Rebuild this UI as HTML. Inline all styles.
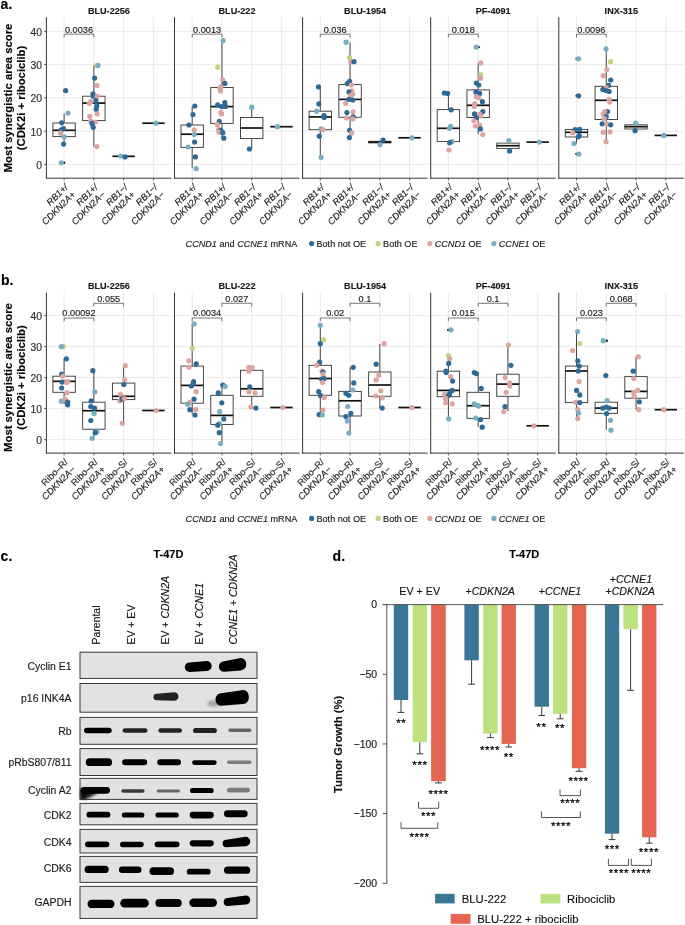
<!DOCTYPE html>
<html><head><meta charset="utf-8"><title>Figure</title>
<style>html,body{margin:0;padding:0;background:#fff;}body{width:685px;height:925px;overflow:hidden;font-family:"Liberation Sans", sans-serif;}svg{display:block;opacity:0.999;}</style>
</head><body>
<svg width="685" height="925" viewBox="0 0 685 925" font-family='"Liberation Sans", sans-serif'>
<style>text{stroke:#1a1a1a;stroke-width:0.15px;stroke-linejoin:round;}</style>
<rect width="685" height="925" fill="#ffffff"/>
<text x="0.60" y="8.80" font-size="14" text-anchor="start" font-weight="bold" font-style="normal" fill="#000" >a.</text>
<line x1="46.40" y1="164.35" x2="171.40" y2="164.35" stroke="#e8e8e8" stroke-width="0.9" />
<line x1="46.40" y1="131.10" x2="171.40" y2="131.10" stroke="#e8e8e8" stroke-width="0.9" />
<line x1="46.40" y1="97.85" x2="171.40" y2="97.85" stroke="#e8e8e8" stroke-width="0.9" />
<line x1="46.40" y1="64.60" x2="171.40" y2="64.60" stroke="#e8e8e8" stroke-width="0.9" />
<line x1="46.40" y1="31.35" x2="171.40" y2="31.35" stroke="#e8e8e8" stroke-width="0.9" />
<line x1="64.10" y1="17.20" x2="64.10" y2="178.20" stroke="#e8e8e8" stroke-width="0.9" />
<line x1="93.86" y1="17.20" x2="93.86" y2="178.20" stroke="#e8e8e8" stroke-width="0.9" />
<line x1="123.62" y1="17.20" x2="123.62" y2="178.20" stroke="#e8e8e8" stroke-width="0.9" />
<line x1="153.38" y1="17.20" x2="153.38" y2="178.20" stroke="#e8e8e8" stroke-width="0.9" />
<text x="108.90" y="13.90" font-size="9.1" text-anchor="middle" font-weight="bold" font-style="normal" fill="#1a1a1a" >BLU-2256</text>
<line x1="174.50" y1="164.35" x2="299.50" y2="164.35" stroke="#e8e8e8" stroke-width="0.9" />
<line x1="174.50" y1="131.10" x2="299.50" y2="131.10" stroke="#e8e8e8" stroke-width="0.9" />
<line x1="174.50" y1="97.85" x2="299.50" y2="97.85" stroke="#e8e8e8" stroke-width="0.9" />
<line x1="174.50" y1="64.60" x2="299.50" y2="64.60" stroke="#e8e8e8" stroke-width="0.9" />
<line x1="174.50" y1="31.35" x2="299.50" y2="31.35" stroke="#e8e8e8" stroke-width="0.9" />
<line x1="192.20" y1="17.20" x2="192.20" y2="178.20" stroke="#e8e8e8" stroke-width="0.9" />
<line x1="221.96" y1="17.20" x2="221.96" y2="178.20" stroke="#e8e8e8" stroke-width="0.9" />
<line x1="251.72" y1="17.20" x2="251.72" y2="178.20" stroke="#e8e8e8" stroke-width="0.9" />
<line x1="281.48" y1="17.20" x2="281.48" y2="178.20" stroke="#e8e8e8" stroke-width="0.9" />
<text x="237.00" y="13.90" font-size="9.1" text-anchor="middle" font-weight="bold" font-style="normal" fill="#1a1a1a" >BLU-222</text>
<line x1="302.60" y1="164.35" x2="427.60" y2="164.35" stroke="#e8e8e8" stroke-width="0.9" />
<line x1="302.60" y1="131.10" x2="427.60" y2="131.10" stroke="#e8e8e8" stroke-width="0.9" />
<line x1="302.60" y1="97.85" x2="427.60" y2="97.85" stroke="#e8e8e8" stroke-width="0.9" />
<line x1="302.60" y1="64.60" x2="427.60" y2="64.60" stroke="#e8e8e8" stroke-width="0.9" />
<line x1="302.60" y1="31.35" x2="427.60" y2="31.35" stroke="#e8e8e8" stroke-width="0.9" />
<line x1="320.30" y1="17.20" x2="320.30" y2="178.20" stroke="#e8e8e8" stroke-width="0.9" />
<line x1="350.06" y1="17.20" x2="350.06" y2="178.20" stroke="#e8e8e8" stroke-width="0.9" />
<line x1="379.82" y1="17.20" x2="379.82" y2="178.20" stroke="#e8e8e8" stroke-width="0.9" />
<line x1="409.58" y1="17.20" x2="409.58" y2="178.20" stroke="#e8e8e8" stroke-width="0.9" />
<text x="365.10" y="13.90" font-size="9.1" text-anchor="middle" font-weight="bold" font-style="normal" fill="#1a1a1a" >BLU-1954</text>
<line x1="430.70" y1="164.35" x2="555.70" y2="164.35" stroke="#e8e8e8" stroke-width="0.9" />
<line x1="430.70" y1="131.10" x2="555.70" y2="131.10" stroke="#e8e8e8" stroke-width="0.9" />
<line x1="430.70" y1="97.85" x2="555.70" y2="97.85" stroke="#e8e8e8" stroke-width="0.9" />
<line x1="430.70" y1="64.60" x2="555.70" y2="64.60" stroke="#e8e8e8" stroke-width="0.9" />
<line x1="430.70" y1="31.35" x2="555.70" y2="31.35" stroke="#e8e8e8" stroke-width="0.9" />
<line x1="448.40" y1="17.20" x2="448.40" y2="178.20" stroke="#e8e8e8" stroke-width="0.9" />
<line x1="478.16" y1="17.20" x2="478.16" y2="178.20" stroke="#e8e8e8" stroke-width="0.9" />
<line x1="507.92" y1="17.20" x2="507.92" y2="178.20" stroke="#e8e8e8" stroke-width="0.9" />
<line x1="537.68" y1="17.20" x2="537.68" y2="178.20" stroke="#e8e8e8" stroke-width="0.9" />
<text x="493.20" y="13.90" font-size="9.1" text-anchor="middle" font-weight="bold" font-style="normal" fill="#1a1a1a" >PF-4091</text>
<line x1="558.80" y1="164.35" x2="683.80" y2="164.35" stroke="#e8e8e8" stroke-width="0.9" />
<line x1="558.80" y1="131.10" x2="683.80" y2="131.10" stroke="#e8e8e8" stroke-width="0.9" />
<line x1="558.80" y1="97.85" x2="683.80" y2="97.85" stroke="#e8e8e8" stroke-width="0.9" />
<line x1="558.80" y1="64.60" x2="683.80" y2="64.60" stroke="#e8e8e8" stroke-width="0.9" />
<line x1="558.80" y1="31.35" x2="683.80" y2="31.35" stroke="#e8e8e8" stroke-width="0.9" />
<line x1="576.50" y1="17.20" x2="576.50" y2="178.20" stroke="#e8e8e8" stroke-width="0.9" />
<line x1="606.26" y1="17.20" x2="606.26" y2="178.20" stroke="#e8e8e8" stroke-width="0.9" />
<line x1="636.02" y1="17.20" x2="636.02" y2="178.20" stroke="#e8e8e8" stroke-width="0.9" />
<line x1="665.78" y1="17.20" x2="665.78" y2="178.20" stroke="#e8e8e8" stroke-width="0.9" />
<text x="621.30" y="13.90" font-size="9.1" text-anchor="middle" font-weight="bold" font-style="normal" fill="#1a1a1a" >INX-315</text>
<line x1="64.10" y1="123.00" x2="64.10" y2="113.50" stroke="#333333" stroke-width="0.9" />
<line x1="64.10" y1="136.60" x2="64.10" y2="144.10" stroke="#333333" stroke-width="0.9" />
<rect x="52.90" y="123.00" width="22.40" height="13.60" fill="#ffffff" stroke="#333333" stroke-width="0.9" />
<line x1="52.90" y1="130.30" x2="75.30" y2="130.30" stroke="#111" stroke-width="1.7" />
<line x1="93.86" y1="96.20" x2="93.86" y2="65.30" stroke="#333333" stroke-width="0.9" />
<line x1="93.86" y1="120.60" x2="93.86" y2="146.60" stroke="#333333" stroke-width="0.9" />
<rect x="82.66" y="96.20" width="22.40" height="24.40" fill="#ffffff" stroke="#333333" stroke-width="0.9" />
<line x1="82.66" y1="103.10" x2="105.06" y2="103.10" stroke="#111" stroke-width="1.7" />
<line x1="112.42" y1="156.30" x2="134.82" y2="156.30" stroke="#111" stroke-width="1.7" />
<line x1="142.18" y1="123.20" x2="164.58" y2="123.20" stroke="#111" stroke-width="1.7" />
<line x1="192.20" y1="125.00" x2="192.20" y2="106.60" stroke="#333333" stroke-width="0.9" />
<line x1="192.20" y1="147.40" x2="192.20" y2="168.30" stroke="#333333" stroke-width="0.9" />
<rect x="181.00" y="125.00" width="22.40" height="22.40" fill="#ffffff" stroke="#333333" stroke-width="0.9" />
<line x1="181.00" y1="134.20" x2="203.40" y2="134.20" stroke="#111" stroke-width="1.7" />
<line x1="221.96" y1="87.50" x2="221.96" y2="40.60" stroke="#333333" stroke-width="0.9" />
<line x1="221.96" y1="123.40" x2="221.96" y2="138.20" stroke="#333333" stroke-width="0.9" />
<rect x="210.76" y="87.50" width="22.40" height="35.90" fill="#ffffff" stroke="#333333" stroke-width="0.9" />
<line x1="210.76" y1="106.60" x2="233.16" y2="106.60" stroke="#111" stroke-width="1.7" />
<line x1="251.72" y1="117.50" x2="251.72" y2="107.20" stroke="#333333" stroke-width="0.9" />
<line x1="251.72" y1="138.60" x2="251.72" y2="149.00" stroke="#333333" stroke-width="0.9" />
<rect x="240.52" y="117.50" width="22.40" height="21.10" fill="#ffffff" stroke="#333333" stroke-width="0.9" />
<line x1="240.52" y1="128.00" x2="262.92" y2="128.00" stroke="#111" stroke-width="1.7" />
<line x1="270.28" y1="126.70" x2="292.68" y2="126.70" stroke="#111" stroke-width="1.7" />
<line x1="320.30" y1="111.20" x2="320.30" y2="86.90" stroke="#333333" stroke-width="0.9" />
<line x1="320.30" y1="129.70" x2="320.30" y2="157.30" stroke="#333333" stroke-width="0.9" />
<rect x="309.10" y="111.20" width="22.40" height="18.50" fill="#ffffff" stroke="#333333" stroke-width="0.9" />
<line x1="309.10" y1="116.90" x2="331.50" y2="116.90" stroke="#111" stroke-width="1.7" />
<line x1="350.06" y1="84.60" x2="350.06" y2="42.60" stroke="#333333" stroke-width="0.9" />
<line x1="350.06" y1="117.30" x2="350.06" y2="137.20" stroke="#333333" stroke-width="0.9" />
<rect x="338.86" y="84.60" width="22.40" height="32.70" fill="#ffffff" stroke="#333333" stroke-width="0.9" />
<line x1="338.86" y1="99.40" x2="361.26" y2="99.40" stroke="#111" stroke-width="1.7" />
<rect x="368.62" y="141.30" width="22.40" height="1.60" fill="#ffffff" stroke="#333333" stroke-width="0.9" />
<line x1="368.62" y1="142.10" x2="391.02" y2="142.10" stroke="#111" stroke-width="1.7" />
<line x1="398.38" y1="137.80" x2="420.78" y2="137.80" stroke="#111" stroke-width="1.7" />
<line x1="448.40" y1="109.60" x2="448.40" y2="92.80" stroke="#333333" stroke-width="0.9" />
<line x1="448.40" y1="141.50" x2="448.40" y2="145.10" stroke="#333333" stroke-width="0.9" />
<rect x="437.20" y="109.60" width="22.40" height="31.90" fill="#ffffff" stroke="#333333" stroke-width="0.9" />
<line x1="437.20" y1="128.30" x2="459.60" y2="128.30" stroke="#111" stroke-width="1.7" />
<line x1="478.16" y1="89.90" x2="478.16" y2="62.90" stroke="#333333" stroke-width="0.9" />
<line x1="478.16" y1="117.50" x2="478.16" y2="134.20" stroke="#333333" stroke-width="0.9" />
<rect x="466.96" y="89.90" width="22.40" height="27.60" fill="#ffffff" stroke="#333333" stroke-width="0.9" />
<line x1="466.96" y1="105.30" x2="489.36" y2="105.30" stroke="#111" stroke-width="1.7" />
<rect x="496.72" y="143.10" width="22.40" height="5.30" fill="#ffffff" stroke="#333333" stroke-width="0.9" />
<line x1="496.72" y1="145.70" x2="519.12" y2="145.70" stroke="#111" stroke-width="1.7" />
<line x1="526.48" y1="142.10" x2="548.88" y2="142.10" stroke="#111" stroke-width="1.7" />
<line x1="576.50" y1="137.00" x2="576.50" y2="143.70" stroke="#333333" stroke-width="0.9" />
<rect x="565.30" y="129.40" width="22.40" height="7.60" fill="#ffffff" stroke="#333333" stroke-width="0.9" />
<line x1="565.30" y1="132.30" x2="587.70" y2="132.30" stroke="#111" stroke-width="1.7" />
<line x1="606.26" y1="86.30" x2="606.26" y2="48.90" stroke="#333333" stroke-width="0.9" />
<line x1="606.26" y1="119.50" x2="606.26" y2="142.10" stroke="#333333" stroke-width="0.9" />
<rect x="595.06" y="86.30" width="22.40" height="33.20" fill="#ffffff" stroke="#333333" stroke-width="0.9" />
<line x1="595.06" y1="100.30" x2="617.46" y2="100.30" stroke="#111" stroke-width="1.7" />
<rect x="624.82" y="124.80" width="22.40" height="4.20" fill="#ffffff" stroke="#333333" stroke-width="0.9" />
<line x1="624.82" y1="126.70" x2="647.22" y2="126.70" stroke="#111" stroke-width="1.7" />
<line x1="654.58" y1="135.40" x2="676.98" y2="135.40" stroke="#111" stroke-width="1.7" />
<circle cx="64.20" cy="162.80" r="1.2" fill="#222"/>
<circle cx="478.80" cy="47.10" r="1.2" fill="#222"/>
<circle cx="576.60" cy="58.80" r="1.2" fill="#222"/>
<circle cx="576.40" cy="154.00" r="1.2" fill="#222"/>
<circle cx="576.60" cy="95.80" r="1.2" fill="#222"/>
<circle cx="65.60" cy="90.70" r="2.6" fill="#2c6a98"/>
<circle cx="68.00" cy="113.10" r="2.6" fill="#76afc4"/>
<circle cx="61.70" cy="122.80" r="2.6" fill="#2c6a98"/>
<circle cx="63.60" cy="128.70" r="2.6" fill="#2c6a98"/>
<circle cx="61.30" cy="129.90" r="2.6" fill="#2c6a98"/>
<circle cx="60.70" cy="133.20" r="2.6" fill="#dfa3a0"/>
<circle cx="64.20" cy="136.80" r="2.6" fill="#76afc4"/>
<circle cx="63.60" cy="144.10" r="2.6" fill="#2c6a98"/>
<circle cx="61.30" cy="162.80" r="2.6" fill="#76afc4"/>
<circle cx="96.60" cy="65.50" r="2.6" fill="#c2d480"/>
<circle cx="98.00" cy="65.40" r="2.6" fill="#76afc4"/>
<circle cx="94.60" cy="78.10" r="2.6" fill="#2c6a98"/>
<circle cx="97.00" cy="85.40" r="2.6" fill="#dfa3a0"/>
<circle cx="93.00" cy="93.80" r="2.6" fill="#2c6a98"/>
<circle cx="93.20" cy="96.20" r="2.6" fill="#2c6a98"/>
<circle cx="97.20" cy="96.40" r="2.6" fill="#dfa3a0"/>
<circle cx="95.80" cy="100.70" r="2.6" fill="#2c6a98"/>
<circle cx="90.80" cy="101.70" r="2.6" fill="#dfa3a0"/>
<circle cx="89.30" cy="103.30" r="2.6" fill="#dfa3a0"/>
<circle cx="96.80" cy="105.70" r="2.6" fill="#2c6a98"/>
<circle cx="96.20" cy="109.20" r="2.6" fill="#2c6a98"/>
<circle cx="97.20" cy="114.00" r="2.6" fill="#dfa3a0"/>
<circle cx="89.70" cy="116.30" r="2.6" fill="#dfa3a0"/>
<circle cx="90.80" cy="121.00" r="2.6" fill="#dfa3a0"/>
<circle cx="95.20" cy="122.00" r="2.6" fill="#dfa3a0"/>
<circle cx="92.00" cy="123.40" r="2.6" fill="#2c6a98"/>
<circle cx="93.20" cy="127.30" r="2.6" fill="#2c6a98"/>
<circle cx="96.80" cy="146.60" r="2.6" fill="#dfa3a0"/>
<circle cx="120.60" cy="156.10" r="2.6" fill="#76afc4"/>
<circle cx="125.10" cy="156.90" r="2.6" fill="#2c6a98"/>
<circle cx="155.90" cy="123.20" r="2.6" fill="#76afc4"/>
<circle cx="194.80" cy="106.00" r="2.6" fill="#2c6a98"/>
<circle cx="193.00" cy="114.50" r="2.6" fill="#2c6a98"/>
<circle cx="188.90" cy="125.00" r="2.6" fill="#2c6a98"/>
<circle cx="194.20" cy="129.90" r="2.6" fill="#dfa3a0"/>
<circle cx="194.20" cy="134.60" r="2.6" fill="#76afc4"/>
<circle cx="194.60" cy="142.10" r="2.6" fill="#2c6a98"/>
<circle cx="188.10" cy="147.00" r="2.6" fill="#76afc4"/>
<circle cx="195.40" cy="156.90" r="2.6" fill="#2c6a98"/>
<circle cx="196.20" cy="168.70" r="2.6" fill="#76afc4"/>
<circle cx="223.20" cy="40.60" r="2.6" fill="#76afc4"/>
<circle cx="217.70" cy="67.20" r="2.6" fill="#c2d480"/>
<circle cx="222.80" cy="80.00" r="2.6" fill="#dfa3a0"/>
<circle cx="224.80" cy="83.40" r="2.6" fill="#2c6a98"/>
<circle cx="220.80" cy="86.90" r="2.6" fill="#dfa3a0"/>
<circle cx="219.90" cy="87.90" r="2.6" fill="#dfa3a0"/>
<circle cx="220.50" cy="90.90" r="2.6" fill="#dfa3a0"/>
<circle cx="224.80" cy="102.70" r="2.6" fill="#2c6a98"/>
<circle cx="217.70" cy="104.90" r="2.6" fill="#2c6a98"/>
<circle cx="221.60" cy="106.60" r="2.6" fill="#2c6a98"/>
<circle cx="225.60" cy="106.40" r="2.6" fill="#2c6a98"/>
<circle cx="220.80" cy="112.60" r="2.6" fill="#dfa3a0"/>
<circle cx="221.60" cy="113.90" r="2.6" fill="#dfa3a0"/>
<circle cx="219.30" cy="121.40" r="2.6" fill="#2c6a98"/>
<circle cx="217.30" cy="124.40" r="2.6" fill="#dfa3a0"/>
<circle cx="218.70" cy="129.30" r="2.6" fill="#dfa3a0"/>
<circle cx="220.80" cy="130.30" r="2.6" fill="#2c6a98"/>
<circle cx="218.90" cy="132.30" r="2.6" fill="#dfa3a0"/>
<circle cx="222.80" cy="132.70" r="2.6" fill="#2c6a98"/>
<circle cx="223.80" cy="138.20" r="2.6" fill="#2c6a98"/>
<circle cx="251.80" cy="107.20" r="2.6" fill="#76afc4"/>
<circle cx="249.40" cy="149.00" r="2.6" fill="#2c6a98"/>
<circle cx="277.40" cy="126.70" r="2.6" fill="#76afc4"/>
<circle cx="318.50" cy="86.90" r="2.6" fill="#2c6a98"/>
<circle cx="318.90" cy="103.90" r="2.6" fill="#2c6a98"/>
<circle cx="316.70" cy="111.20" r="2.6" fill="#76afc4"/>
<circle cx="324.00" cy="115.50" r="2.6" fill="#2c6a98"/>
<circle cx="324.20" cy="117.50" r="2.6" fill="#2c6a98"/>
<circle cx="321.10" cy="128.90" r="2.6" fill="#76afc4"/>
<circle cx="323.20" cy="129.70" r="2.6" fill="#dfa3a0"/>
<circle cx="319.30" cy="136.20" r="2.6" fill="#2c6a98"/>
<circle cx="321.10" cy="157.30" r="2.6" fill="#76afc4"/>
<circle cx="346.10" cy="42.20" r="2.6" fill="#76afc4"/>
<circle cx="349.60" cy="57.60" r="2.6" fill="#c2d480"/>
<circle cx="350.80" cy="61.90" r="2.6" fill="#dfa3a0"/>
<circle cx="354.00" cy="61.70" r="2.6" fill="#2c6a98"/>
<circle cx="349.60" cy="81.40" r="2.6" fill="#2c6a98"/>
<circle cx="347.30" cy="83.60" r="2.6" fill="#2c6a98"/>
<circle cx="351.40" cy="85.00" r="2.6" fill="#dfa3a0"/>
<circle cx="351.80" cy="90.90" r="2.6" fill="#dfa3a0"/>
<circle cx="349.00" cy="91.90" r="2.6" fill="#2c6a98"/>
<circle cx="352.60" cy="94.20" r="2.6" fill="#dfa3a0"/>
<circle cx="350.80" cy="95.40" r="2.6" fill="#dfa3a0"/>
<circle cx="348.80" cy="99.40" r="2.6" fill="#2c6a98"/>
<circle cx="352.80" cy="100.10" r="2.6" fill="#2c6a98"/>
<circle cx="345.70" cy="103.30" r="2.6" fill="#dfa3a0"/>
<circle cx="346.90" cy="112.60" r="2.6" fill="#2c6a98"/>
<circle cx="353.00" cy="111.80" r="2.6" fill="#dfa3a0"/>
<circle cx="353.20" cy="116.90" r="2.6" fill="#2c6a98"/>
<circle cx="346.50" cy="117.90" r="2.6" fill="#dfa3a0"/>
<circle cx="352.80" cy="118.90" r="2.6" fill="#dfa3a0"/>
<circle cx="349.60" cy="130.30" r="2.6" fill="#2c6a98"/>
<circle cx="351.80" cy="132.90" r="2.6" fill="#dfa3a0"/>
<circle cx="349.40" cy="137.60" r="2.6" fill="#2c6a98"/>
<circle cx="383.10" cy="140.00" r="2.6" fill="#2c6a98"/>
<circle cx="380.00" cy="144.70" r="2.6" fill="#76afc4"/>
<circle cx="411.90" cy="137.80" r="2.6" fill="#76afc4"/>
<circle cx="444.30" cy="93.00" r="2.6" fill="#2c6a98"/>
<circle cx="447.70" cy="93.40" r="2.6" fill="#2c6a98"/>
<circle cx="451.20" cy="109.80" r="2.6" fill="#2c6a98"/>
<circle cx="450.60" cy="126.40" r="2.6" fill="#76afc4"/>
<circle cx="449.30" cy="128.30" r="2.6" fill="#76afc4"/>
<circle cx="452.20" cy="141.50" r="2.6" fill="#76afc4"/>
<circle cx="449.70" cy="142.70" r="2.6" fill="#2c6a98"/>
<circle cx="448.90" cy="150.00" r="2.6" fill="#dfa3a0"/>
<circle cx="476.10" cy="47.10" r="2.6" fill="#76afc4"/>
<circle cx="480.80" cy="62.90" r="2.6" fill="#dfa3a0"/>
<circle cx="480.80" cy="74.50" r="2.6" fill="#c2d480"/>
<circle cx="480.60" cy="78.10" r="2.6" fill="#dfa3a0"/>
<circle cx="476.30" cy="83.00" r="2.6" fill="#2c6a98"/>
<circle cx="478.80" cy="85.00" r="2.6" fill="#2c6a98"/>
<circle cx="475.90" cy="91.90" r="2.6" fill="#2c6a98"/>
<circle cx="479.60" cy="93.40" r="2.6" fill="#2c6a98"/>
<circle cx="476.30" cy="96.80" r="2.6" fill="#dfa3a0"/>
<circle cx="478.80" cy="97.80" r="2.6" fill="#dfa3a0"/>
<circle cx="482.40" cy="101.70" r="2.6" fill="#2c6a98"/>
<circle cx="474.90" cy="103.70" r="2.6" fill="#dfa3a0"/>
<circle cx="474.30" cy="106.60" r="2.6" fill="#dfa3a0"/>
<circle cx="482.80" cy="111.60" r="2.6" fill="#2c6a98"/>
<circle cx="474.50" cy="113.90" r="2.6" fill="#2c6a98"/>
<circle cx="479.60" cy="114.10" r="2.6" fill="#dfa3a0"/>
<circle cx="480.80" cy="115.90" r="2.6" fill="#dfa3a0"/>
<circle cx="476.30" cy="117.50" r="2.6" fill="#2c6a98"/>
<circle cx="473.90" cy="120.80" r="2.6" fill="#dfa3a0"/>
<circle cx="475.30" cy="126.00" r="2.6" fill="#dfa3a0"/>
<circle cx="479.60" cy="125.00" r="2.6" fill="#dfa3a0"/>
<circle cx="480.40" cy="128.90" r="2.6" fill="#2c6a98"/>
<circle cx="482.80" cy="134.60" r="2.6" fill="#dfa3a0"/>
<circle cx="508.80" cy="140.50" r="2.6" fill="#76afc4"/>
<circle cx="509.60" cy="151.00" r="2.6" fill="#2c6a98"/>
<circle cx="539.30" cy="142.10" r="2.6" fill="#76afc4"/>
<circle cx="578.60" cy="58.80" r="2.6" fill="#76afc4"/>
<circle cx="578.60" cy="95.80" r="2.6" fill="#2c6a98"/>
<circle cx="579.60" cy="129.30" r="2.6" fill="#2c6a98"/>
<circle cx="575.10" cy="129.70" r="2.6" fill="#2c6a98"/>
<circle cx="572.70" cy="132.70" r="2.6" fill="#dfa3a0"/>
<circle cx="579.20" cy="135.60" r="2.6" fill="#2c6a98"/>
<circle cx="578.20" cy="136.80" r="2.6" fill="#2c6a98"/>
<circle cx="574.00" cy="143.50" r="2.6" fill="#76afc4"/>
<circle cx="578.80" cy="154.00" r="2.6" fill="#76afc4"/>
<circle cx="606.00" cy="48.90" r="2.6" fill="#76afc4"/>
<circle cx="610.50" cy="61.70" r="2.6" fill="#c2d480"/>
<circle cx="606.80" cy="69.60" r="2.6" fill="#dfa3a0"/>
<circle cx="603.20" cy="75.70" r="2.6" fill="#dfa3a0"/>
<circle cx="610.70" cy="80.00" r="2.6" fill="#2c6a98"/>
<circle cx="608.50" cy="85.40" r="2.6" fill="#2c6a98"/>
<circle cx="606.20" cy="87.50" r="2.6" fill="#dfa3a0"/>
<circle cx="602.80" cy="89.50" r="2.6" fill="#2c6a98"/>
<circle cx="605.80" cy="90.50" r="2.6" fill="#2c6a98"/>
<circle cx="609.10" cy="91.50" r="2.6" fill="#2c6a98"/>
<circle cx="609.10" cy="99.40" r="2.6" fill="#dfa3a0"/>
<circle cx="609.70" cy="102.10" r="2.6" fill="#dfa3a0"/>
<circle cx="607.50" cy="111.60" r="2.6" fill="#2c6a98"/>
<circle cx="604.60" cy="111.60" r="2.6" fill="#dfa3a0"/>
<circle cx="603.20" cy="114.00" r="2.6" fill="#dfa3a0"/>
<circle cx="606.20" cy="116.50" r="2.6" fill="#2c6a98"/>
<circle cx="604.20" cy="118.50" r="2.6" fill="#dfa3a0"/>
<circle cx="602.20" cy="123.80" r="2.6" fill="#2c6a98"/>
<circle cx="606.80" cy="124.00" r="2.6" fill="#dfa3a0"/>
<circle cx="610.70" cy="124.80" r="2.6" fill="#2c6a98"/>
<circle cx="603.20" cy="132.30" r="2.6" fill="#dfa3a0"/>
<circle cx="610.10" cy="131.90" r="2.6" fill="#dfa3a0"/>
<circle cx="606.00" cy="141.70" r="2.6" fill="#dfa3a0"/>
<circle cx="635.70" cy="123.00" r="2.6" fill="#76afc4"/>
<circle cx="635.10" cy="130.70" r="2.6" fill="#2c6a98"/>
<circle cx="663.70" cy="135.40" r="2.6" fill="#76afc4"/>
<polyline points="64.10,37.40 64.10,34.20 93.86,34.20 93.86,37.40" fill="none" stroke="#555" stroke-width="0.8"/>
<text x="78.98" y="32.60" font-size="9.2" text-anchor="middle" font-weight="normal" font-style="normal" fill="#222" >0.0036</text>
<polyline points="192.20,37.40 192.20,34.20 221.96,34.20 221.96,37.40" fill="none" stroke="#555" stroke-width="0.8"/>
<text x="207.08" y="32.60" font-size="9.2" text-anchor="middle" font-weight="normal" font-style="normal" fill="#222" >0.0013</text>
<polyline points="320.30,37.40 320.30,34.20 350.06,34.20 350.06,37.40" fill="none" stroke="#555" stroke-width="0.8"/>
<text x="335.18" y="32.60" font-size="9.2" text-anchor="middle" font-weight="normal" font-style="normal" fill="#222" >0.036</text>
<polyline points="448.40,37.40 448.40,34.20 478.16,34.20 478.16,37.40" fill="none" stroke="#555" stroke-width="0.8"/>
<text x="463.28" y="32.60" font-size="9.2" text-anchor="middle" font-weight="normal" font-style="normal" fill="#222" >0.018</text>
<polyline points="576.50,37.40 576.50,34.20 606.26,34.20 606.26,37.40" fill="none" stroke="#555" stroke-width="0.8"/>
<text x="591.38" y="32.60" font-size="9.2" text-anchor="middle" font-weight="normal" font-style="normal" fill="#222" >0.0096</text>
<line x1="46.40" y1="17.20" x2="46.40" y2="178.70" stroke="#333333" stroke-width="1.0" />
<line x1="45.90" y1="178.20" x2="171.40" y2="178.20" stroke="#333333" stroke-width="1.0" />
<line x1="64.10" y1="178.20" x2="64.10" y2="180.50" stroke="#333333" stroke-width="0.8" />
<line x1="93.86" y1="178.20" x2="93.86" y2="180.50" stroke="#333333" stroke-width="0.8" />
<line x1="123.62" y1="178.20" x2="123.62" y2="180.50" stroke="#333333" stroke-width="0.8" />
<line x1="153.38" y1="178.20" x2="153.38" y2="180.50" stroke="#333333" stroke-width="0.8" />
<line x1="174.50" y1="17.20" x2="174.50" y2="178.70" stroke="#333333" stroke-width="1.0" />
<line x1="174.00" y1="178.20" x2="299.50" y2="178.20" stroke="#333333" stroke-width="1.0" />
<line x1="192.20" y1="178.20" x2="192.20" y2="180.50" stroke="#333333" stroke-width="0.8" />
<line x1="221.96" y1="178.20" x2="221.96" y2="180.50" stroke="#333333" stroke-width="0.8" />
<line x1="251.72" y1="178.20" x2="251.72" y2="180.50" stroke="#333333" stroke-width="0.8" />
<line x1="281.48" y1="178.20" x2="281.48" y2="180.50" stroke="#333333" stroke-width="0.8" />
<line x1="302.60" y1="17.20" x2="302.60" y2="178.70" stroke="#333333" stroke-width="1.0" />
<line x1="302.10" y1="178.20" x2="427.60" y2="178.20" stroke="#333333" stroke-width="1.0" />
<line x1="320.30" y1="178.20" x2="320.30" y2="180.50" stroke="#333333" stroke-width="0.8" />
<line x1="350.06" y1="178.20" x2="350.06" y2="180.50" stroke="#333333" stroke-width="0.8" />
<line x1="379.82" y1="178.20" x2="379.82" y2="180.50" stroke="#333333" stroke-width="0.8" />
<line x1="409.58" y1="178.20" x2="409.58" y2="180.50" stroke="#333333" stroke-width="0.8" />
<line x1="430.70" y1="17.20" x2="430.70" y2="178.70" stroke="#333333" stroke-width="1.0" />
<line x1="430.20" y1="178.20" x2="555.70" y2="178.20" stroke="#333333" stroke-width="1.0" />
<line x1="448.40" y1="178.20" x2="448.40" y2="180.50" stroke="#333333" stroke-width="0.8" />
<line x1="478.16" y1="178.20" x2="478.16" y2="180.50" stroke="#333333" stroke-width="0.8" />
<line x1="507.92" y1="178.20" x2="507.92" y2="180.50" stroke="#333333" stroke-width="0.8" />
<line x1="537.68" y1="178.20" x2="537.68" y2="180.50" stroke="#333333" stroke-width="0.8" />
<line x1="558.80" y1="17.20" x2="558.80" y2="178.70" stroke="#333333" stroke-width="1.0" />
<line x1="558.30" y1="178.20" x2="683.80" y2="178.20" stroke="#333333" stroke-width="1.0" />
<line x1="576.50" y1="178.20" x2="576.50" y2="180.50" stroke="#333333" stroke-width="0.8" />
<line x1="606.26" y1="178.20" x2="606.26" y2="180.50" stroke="#333333" stroke-width="0.8" />
<line x1="636.02" y1="178.20" x2="636.02" y2="180.50" stroke="#333333" stroke-width="0.8" />
<line x1="665.78" y1="178.20" x2="665.78" y2="180.50" stroke="#333333" stroke-width="0.8" />
<line x1="44.10" y1="164.35" x2="46.40" y2="164.35" stroke="#333333" stroke-width="0.8" />
<text x="42.00" y="168.85" font-size="10.4" text-anchor="end" font-weight="normal" font-style="normal" fill="#333" >0</text>
<line x1="44.10" y1="131.10" x2="46.40" y2="131.10" stroke="#333333" stroke-width="0.8" />
<text x="42.00" y="135.60" font-size="10.4" text-anchor="end" font-weight="normal" font-style="normal" fill="#333" >10</text>
<line x1="44.10" y1="97.85" x2="46.40" y2="97.85" stroke="#333333" stroke-width="0.8" />
<text x="42.00" y="102.35" font-size="10.4" text-anchor="end" font-weight="normal" font-style="normal" fill="#333" >20</text>
<line x1="44.10" y1="64.60" x2="46.40" y2="64.60" stroke="#333333" stroke-width="0.8" />
<text x="42.00" y="69.10" font-size="10.4" text-anchor="end" font-weight="normal" font-style="normal" fill="#333" >30</text>
<line x1="44.10" y1="31.35" x2="46.40" y2="31.35" stroke="#333333" stroke-width="0.8" />
<text x="42.00" y="35.85" font-size="10.4" text-anchor="end" font-weight="normal" font-style="normal" fill="#333" >40</text>
<g transform="translate(0,98.00) rotate(-90)">
<text x="0.00" y="11.70" font-size="11.3" text-anchor="middle" font-weight="bold" font-style="normal" fill="#000" >Most synergistic area score</text>
<text x="0.00" y="24.90" font-size="11.3" text-anchor="middle" font-weight="bold" font-style="normal" fill="#000" >(CDK2i + ribociclib)</text>
</g>
<g transform="translate(68.70,187.80) rotate(-45)">
<text x="0" y="0" font-size="9.3" text-anchor="end" fill="#222" font-style="italic">RB1+/</text>
<text x="0" y="10.3" font-size="9.3" text-anchor="end" fill="#222" font-style="italic">CDKN2A+</text>
</g>
<g transform="translate(98.46,187.80) rotate(-45)">
<text x="0" y="0" font-size="9.3" text-anchor="end" fill="#222" font-style="italic">RB1+/</text>
<text x="0" y="10.3" font-size="9.3" text-anchor="end" fill="#222" font-style="italic">CDKN2A−</text>
</g>
<g transform="translate(128.22,187.80) rotate(-45)">
<text x="0" y="0" font-size="9.3" text-anchor="end" fill="#222" font-style="italic">RB1−/</text>
<text x="0" y="10.3" font-size="9.3" text-anchor="end" fill="#222" font-style="italic">CDKN2A+</text>
</g>
<g transform="translate(157.98,187.80) rotate(-45)">
<text x="0" y="0" font-size="9.3" text-anchor="end" fill="#222" font-style="italic">RB1−/</text>
<text x="0" y="10.3" font-size="9.3" text-anchor="end" fill="#222" font-style="italic">CDKN2A−</text>
</g>
<g transform="translate(196.80,187.80) rotate(-45)">
<text x="0" y="0" font-size="9.3" text-anchor="end" fill="#222" font-style="italic">RB1+/</text>
<text x="0" y="10.3" font-size="9.3" text-anchor="end" fill="#222" font-style="italic">CDKN2A+</text>
</g>
<g transform="translate(226.56,187.80) rotate(-45)">
<text x="0" y="0" font-size="9.3" text-anchor="end" fill="#222" font-style="italic">RB1+/</text>
<text x="0" y="10.3" font-size="9.3" text-anchor="end" fill="#222" font-style="italic">CDKN2A−</text>
</g>
<g transform="translate(256.32,187.80) rotate(-45)">
<text x="0" y="0" font-size="9.3" text-anchor="end" fill="#222" font-style="italic">RB1−/</text>
<text x="0" y="10.3" font-size="9.3" text-anchor="end" fill="#222" font-style="italic">CDKN2A+</text>
</g>
<g transform="translate(286.08,187.80) rotate(-45)">
<text x="0" y="0" font-size="9.3" text-anchor="end" fill="#222" font-style="italic">RB1−/</text>
<text x="0" y="10.3" font-size="9.3" text-anchor="end" fill="#222" font-style="italic">CDKN2A−</text>
</g>
<g transform="translate(324.90,187.80) rotate(-45)">
<text x="0" y="0" font-size="9.3" text-anchor="end" fill="#222" font-style="italic">RB1+/</text>
<text x="0" y="10.3" font-size="9.3" text-anchor="end" fill="#222" font-style="italic">CDKN2A+</text>
</g>
<g transform="translate(354.66,187.80) rotate(-45)">
<text x="0" y="0" font-size="9.3" text-anchor="end" fill="#222" font-style="italic">RB1+/</text>
<text x="0" y="10.3" font-size="9.3" text-anchor="end" fill="#222" font-style="italic">CDKN2A−</text>
</g>
<g transform="translate(384.42,187.80) rotate(-45)">
<text x="0" y="0" font-size="9.3" text-anchor="end" fill="#222" font-style="italic">RB1−/</text>
<text x="0" y="10.3" font-size="9.3" text-anchor="end" fill="#222" font-style="italic">CDKN2A+</text>
</g>
<g transform="translate(414.18,187.80) rotate(-45)">
<text x="0" y="0" font-size="9.3" text-anchor="end" fill="#222" font-style="italic">RB1−/</text>
<text x="0" y="10.3" font-size="9.3" text-anchor="end" fill="#222" font-style="italic">CDKN2A−</text>
</g>
<g transform="translate(453.00,187.80) rotate(-45)">
<text x="0" y="0" font-size="9.3" text-anchor="end" fill="#222" font-style="italic">RB1+/</text>
<text x="0" y="10.3" font-size="9.3" text-anchor="end" fill="#222" font-style="italic">CDKN2A+</text>
</g>
<g transform="translate(482.76,187.80) rotate(-45)">
<text x="0" y="0" font-size="9.3" text-anchor="end" fill="#222" font-style="italic">RB1+/</text>
<text x="0" y="10.3" font-size="9.3" text-anchor="end" fill="#222" font-style="italic">CDKN2A−</text>
</g>
<g transform="translate(512.52,187.80) rotate(-45)">
<text x="0" y="0" font-size="9.3" text-anchor="end" fill="#222" font-style="italic">RB1−/</text>
<text x="0" y="10.3" font-size="9.3" text-anchor="end" fill="#222" font-style="italic">CDKN2A+</text>
</g>
<g transform="translate(542.28,187.80) rotate(-45)">
<text x="0" y="0" font-size="9.3" text-anchor="end" fill="#222" font-style="italic">RB1−/</text>
<text x="0" y="10.3" font-size="9.3" text-anchor="end" fill="#222" font-style="italic">CDKN2A−</text>
</g>
<g transform="translate(581.10,187.80) rotate(-45)">
<text x="0" y="0" font-size="9.3" text-anchor="end" fill="#222" font-style="italic">RB1+/</text>
<text x="0" y="10.3" font-size="9.3" text-anchor="end" fill="#222" font-style="italic">CDKN2A+</text>
</g>
<g transform="translate(610.86,187.80) rotate(-45)">
<text x="0" y="0" font-size="9.3" text-anchor="end" fill="#222" font-style="italic">RB1+/</text>
<text x="0" y="10.3" font-size="9.3" text-anchor="end" fill="#222" font-style="italic">CDKN2A−</text>
</g>
<g transform="translate(640.62,187.80) rotate(-45)">
<text x="0" y="0" font-size="9.3" text-anchor="end" fill="#222" font-style="italic">RB1−/</text>
<text x="0" y="10.3" font-size="9.3" text-anchor="end" fill="#222" font-style="italic">CDKN2A+</text>
</g>
<g transform="translate(670.38,187.80) rotate(-45)">
<text x="0" y="0" font-size="9.3" text-anchor="end" fill="#222" font-style="italic">RB1−/</text>
<text x="0" y="10.3" font-size="9.3" text-anchor="end" fill="#222" font-style="italic">CDKN2A−</text>
</g>
<text x="185.60" y="246.90" font-size="9.1" text-anchor="start" font-weight="normal" font-style="normal" fill="#1a1a1a" ><tspan font-style="italic">CCND1</tspan> and <tspan font-style="italic">CCNE1</tspan> mRNA</text>
<circle cx="311.60" cy="243.60" r="2.6" fill="#2c6a98"/>
<text x="316.50" y="246.90" font-size="9.1" text-anchor="start" font-weight="normal" font-style="normal" fill="#1a1a1a" >Both not OE</text>
<circle cx="378.20" cy="243.60" r="2.6" fill="#c2d480"/>
<text x="383.10" y="246.90" font-size="9.1" text-anchor="start" font-weight="normal" font-style="normal" fill="#1a1a1a" >Both OE</text>
<circle cx="429.80" cy="243.60" r="2.6" fill="#dfa3a0"/>
<text x="434.70" y="246.90" font-size="9.1" text-anchor="start" font-weight="normal" font-style="normal" fill="#1a1a1a" ><tspan font-style="italic">CCND1</tspan> OE</text>
<circle cx="493.90" cy="243.60" r="2.6" fill="#76afc4"/>
<text x="498.80" y="246.90" font-size="9.1" text-anchor="start" font-weight="normal" font-style="normal" fill="#1a1a1a" ><tspan font-style="italic">CCNE1</tspan> OE</text>
<text x="0.90" y="285.20" font-size="14" text-anchor="start" font-weight="bold" font-style="normal" fill="#000" >b.</text>
<line x1="46.40" y1="439.60" x2="171.40" y2="439.60" stroke="#e8e8e8" stroke-width="0.9" />
<line x1="46.40" y1="408.60" x2="171.40" y2="408.60" stroke="#e8e8e8" stroke-width="0.9" />
<line x1="46.40" y1="377.60" x2="171.40" y2="377.60" stroke="#e8e8e8" stroke-width="0.9" />
<line x1="46.40" y1="346.60" x2="171.40" y2="346.60" stroke="#e8e8e8" stroke-width="0.9" />
<line x1="46.40" y1="315.60" x2="171.40" y2="315.60" stroke="#e8e8e8" stroke-width="0.9" />
<line x1="64.10" y1="292.70" x2="64.10" y2="453.10" stroke="#e8e8e8" stroke-width="0.9" />
<line x1="93.86" y1="292.70" x2="93.86" y2="453.10" stroke="#e8e8e8" stroke-width="0.9" />
<line x1="123.62" y1="292.70" x2="123.62" y2="453.10" stroke="#e8e8e8" stroke-width="0.9" />
<line x1="153.38" y1="292.70" x2="153.38" y2="453.10" stroke="#e8e8e8" stroke-width="0.9" />
<text x="108.90" y="289.20" font-size="9.1" text-anchor="middle" font-weight="bold" font-style="normal" fill="#1a1a1a" >BLU-2256</text>
<line x1="174.50" y1="439.60" x2="299.50" y2="439.60" stroke="#e8e8e8" stroke-width="0.9" />
<line x1="174.50" y1="408.60" x2="299.50" y2="408.60" stroke="#e8e8e8" stroke-width="0.9" />
<line x1="174.50" y1="377.60" x2="299.50" y2="377.60" stroke="#e8e8e8" stroke-width="0.9" />
<line x1="174.50" y1="346.60" x2="299.50" y2="346.60" stroke="#e8e8e8" stroke-width="0.9" />
<line x1="174.50" y1="315.60" x2="299.50" y2="315.60" stroke="#e8e8e8" stroke-width="0.9" />
<line x1="192.20" y1="292.70" x2="192.20" y2="453.10" stroke="#e8e8e8" stroke-width="0.9" />
<line x1="221.96" y1="292.70" x2="221.96" y2="453.10" stroke="#e8e8e8" stroke-width="0.9" />
<line x1="251.72" y1="292.70" x2="251.72" y2="453.10" stroke="#e8e8e8" stroke-width="0.9" />
<line x1="281.48" y1="292.70" x2="281.48" y2="453.10" stroke="#e8e8e8" stroke-width="0.9" />
<text x="237.00" y="289.20" font-size="9.1" text-anchor="middle" font-weight="bold" font-style="normal" fill="#1a1a1a" >BLU-222</text>
<line x1="302.60" y1="439.60" x2="427.60" y2="439.60" stroke="#e8e8e8" stroke-width="0.9" />
<line x1="302.60" y1="408.60" x2="427.60" y2="408.60" stroke="#e8e8e8" stroke-width="0.9" />
<line x1="302.60" y1="377.60" x2="427.60" y2="377.60" stroke="#e8e8e8" stroke-width="0.9" />
<line x1="302.60" y1="346.60" x2="427.60" y2="346.60" stroke="#e8e8e8" stroke-width="0.9" />
<line x1="302.60" y1="315.60" x2="427.60" y2="315.60" stroke="#e8e8e8" stroke-width="0.9" />
<line x1="320.30" y1="292.70" x2="320.30" y2="453.10" stroke="#e8e8e8" stroke-width="0.9" />
<line x1="350.06" y1="292.70" x2="350.06" y2="453.10" stroke="#e8e8e8" stroke-width="0.9" />
<line x1="379.82" y1="292.70" x2="379.82" y2="453.10" stroke="#e8e8e8" stroke-width="0.9" />
<line x1="409.58" y1="292.70" x2="409.58" y2="453.10" stroke="#e8e8e8" stroke-width="0.9" />
<text x="365.10" y="289.20" font-size="9.1" text-anchor="middle" font-weight="bold" font-style="normal" fill="#1a1a1a" >BLU-1954</text>
<line x1="430.70" y1="439.60" x2="555.70" y2="439.60" stroke="#e8e8e8" stroke-width="0.9" />
<line x1="430.70" y1="408.60" x2="555.70" y2="408.60" stroke="#e8e8e8" stroke-width="0.9" />
<line x1="430.70" y1="377.60" x2="555.70" y2="377.60" stroke="#e8e8e8" stroke-width="0.9" />
<line x1="430.70" y1="346.60" x2="555.70" y2="346.60" stroke="#e8e8e8" stroke-width="0.9" />
<line x1="430.70" y1="315.60" x2="555.70" y2="315.60" stroke="#e8e8e8" stroke-width="0.9" />
<line x1="448.40" y1="292.70" x2="448.40" y2="453.10" stroke="#e8e8e8" stroke-width="0.9" />
<line x1="478.16" y1="292.70" x2="478.16" y2="453.10" stroke="#e8e8e8" stroke-width="0.9" />
<line x1="507.92" y1="292.70" x2="507.92" y2="453.10" stroke="#e8e8e8" stroke-width="0.9" />
<line x1="537.68" y1="292.70" x2="537.68" y2="453.10" stroke="#e8e8e8" stroke-width="0.9" />
<text x="493.20" y="289.20" font-size="9.1" text-anchor="middle" font-weight="bold" font-style="normal" fill="#1a1a1a" >PF-4091</text>
<line x1="558.80" y1="439.60" x2="683.80" y2="439.60" stroke="#e8e8e8" stroke-width="0.9" />
<line x1="558.80" y1="408.60" x2="683.80" y2="408.60" stroke="#e8e8e8" stroke-width="0.9" />
<line x1="558.80" y1="377.60" x2="683.80" y2="377.60" stroke="#e8e8e8" stroke-width="0.9" />
<line x1="558.80" y1="346.60" x2="683.80" y2="346.60" stroke="#e8e8e8" stroke-width="0.9" />
<line x1="558.80" y1="315.60" x2="683.80" y2="315.60" stroke="#e8e8e8" stroke-width="0.9" />
<line x1="576.50" y1="292.70" x2="576.50" y2="453.10" stroke="#e8e8e8" stroke-width="0.9" />
<line x1="606.26" y1="292.70" x2="606.26" y2="453.10" stroke="#e8e8e8" stroke-width="0.9" />
<line x1="636.02" y1="292.70" x2="636.02" y2="453.10" stroke="#e8e8e8" stroke-width="0.9" />
<line x1="665.78" y1="292.70" x2="665.78" y2="453.10" stroke="#e8e8e8" stroke-width="0.9" />
<text x="621.30" y="289.20" font-size="9.1" text-anchor="middle" font-weight="bold" font-style="normal" fill="#1a1a1a" >INX-315</text>
<line x1="64.10" y1="376.20" x2="64.10" y2="358.80" stroke="#333333" stroke-width="0.9" />
<line x1="64.10" y1="392.30" x2="64.10" y2="404.20" stroke="#333333" stroke-width="0.9" />
<rect x="52.90" y="376.20" width="22.40" height="16.10" fill="#ffffff" stroke="#333333" stroke-width="0.9" />
<line x1="52.90" y1="381.30" x2="75.30" y2="381.30" stroke="#111" stroke-width="1.7" />
<line x1="93.86" y1="402.20" x2="93.86" y2="370.70" stroke="#333333" stroke-width="0.9" />
<line x1="93.86" y1="429.20" x2="93.86" y2="437.70" stroke="#333333" stroke-width="0.9" />
<rect x="82.66" y="402.20" width="22.40" height="27.00" fill="#ffffff" stroke="#333333" stroke-width="0.9" />
<line x1="82.66" y1="410.70" x2="105.06" y2="410.70" stroke="#111" stroke-width="1.7" />
<line x1="123.62" y1="383.10" x2="123.62" y2="365.70" stroke="#333333" stroke-width="0.9" />
<line x1="123.62" y1="399.60" x2="123.62" y2="423.30" stroke="#333333" stroke-width="0.9" />
<rect x="112.42" y="383.10" width="22.40" height="16.50" fill="#ffffff" stroke="#333333" stroke-width="0.9" />
<line x1="112.42" y1="396.30" x2="134.82" y2="396.30" stroke="#111" stroke-width="1.7" />
<line x1="142.18" y1="410.50" x2="164.58" y2="410.50" stroke="#111" stroke-width="1.7" />
<line x1="192.20" y1="366.10" x2="192.20" y2="323.80" stroke="#333333" stroke-width="0.9" />
<line x1="192.20" y1="403.20" x2="192.20" y2="414.00" stroke="#333333" stroke-width="0.9" />
<rect x="181.00" y="366.10" width="22.40" height="37.10" fill="#ffffff" stroke="#333333" stroke-width="0.9" />
<line x1="181.00" y1="385.40" x2="203.40" y2="385.40" stroke="#111" stroke-width="1.7" />
<line x1="221.96" y1="395.30" x2="221.96" y2="385.00" stroke="#333333" stroke-width="0.9" />
<line x1="221.96" y1="424.50" x2="221.96" y2="443.60" stroke="#333333" stroke-width="0.9" />
<rect x="210.76" y="395.30" width="22.40" height="29.20" fill="#ffffff" stroke="#333333" stroke-width="0.9" />
<line x1="210.76" y1="415.40" x2="233.16" y2="415.40" stroke="#111" stroke-width="1.7" />
<line x1="251.72" y1="370.30" x2="251.72" y2="366.70" stroke="#333333" stroke-width="0.9" />
<line x1="251.72" y1="396.30" x2="251.72" y2="407.10" stroke="#333333" stroke-width="0.9" />
<rect x="240.52" y="370.30" width="22.40" height="26.00" fill="#ffffff" stroke="#333333" stroke-width="0.9" />
<line x1="240.52" y1="388.80" x2="262.92" y2="388.80" stroke="#111" stroke-width="1.7" />
<line x1="270.28" y1="407.50" x2="292.68" y2="407.50" stroke="#111" stroke-width="1.7" />
<line x1="320.30" y1="365.30" x2="320.30" y2="325.30" stroke="#333333" stroke-width="0.9" />
<line x1="320.30" y1="395.30" x2="320.30" y2="415.00" stroke="#333333" stroke-width="0.9" />
<rect x="309.10" y="365.30" width="22.40" height="30.00" fill="#ffffff" stroke="#333333" stroke-width="0.9" />
<line x1="309.10" y1="378.50" x2="331.50" y2="378.50" stroke="#111" stroke-width="1.7" />
<line x1="350.06" y1="391.40" x2="350.06" y2="367.30" stroke="#333333" stroke-width="0.9" />
<line x1="350.06" y1="416.00" x2="350.06" y2="433.30" stroke="#333333" stroke-width="0.9" />
<rect x="338.86" y="391.40" width="22.40" height="24.60" fill="#ffffff" stroke="#333333" stroke-width="0.9" />
<line x1="338.86" y1="400.80" x2="361.26" y2="400.80" stroke="#111" stroke-width="1.7" />
<line x1="379.82" y1="372.00" x2="379.82" y2="344.00" stroke="#333333" stroke-width="0.9" />
<line x1="379.82" y1="396.30" x2="379.82" y2="408.10" stroke="#333333" stroke-width="0.9" />
<rect x="368.62" y="372.00" width="22.40" height="24.30" fill="#ffffff" stroke="#333333" stroke-width="0.9" />
<line x1="368.62" y1="385.00" x2="391.02" y2="385.00" stroke="#111" stroke-width="1.7" />
<line x1="398.38" y1="407.50" x2="420.78" y2="407.50" stroke="#111" stroke-width="1.7" />
<line x1="448.40" y1="371.20" x2="448.40" y2="355.90" stroke="#333333" stroke-width="0.9" />
<line x1="448.40" y1="396.70" x2="448.40" y2="418.90" stroke="#333333" stroke-width="0.9" />
<rect x="437.20" y="371.20" width="22.40" height="25.50" fill="#ffffff" stroke="#333333" stroke-width="0.9" />
<line x1="437.20" y1="390.40" x2="459.60" y2="390.40" stroke="#111" stroke-width="1.7" />
<line x1="478.16" y1="392.30" x2="478.16" y2="372.60" stroke="#333333" stroke-width="0.9" />
<line x1="478.16" y1="418.40" x2="478.16" y2="426.80" stroke="#333333" stroke-width="0.9" />
<rect x="466.96" y="392.30" width="22.40" height="26.10" fill="#ffffff" stroke="#333333" stroke-width="0.9" />
<line x1="466.96" y1="405.70" x2="489.36" y2="405.70" stroke="#111" stroke-width="1.7" />
<line x1="507.92" y1="374.20" x2="507.92" y2="345.00" stroke="#333333" stroke-width="0.9" />
<line x1="507.92" y1="396.30" x2="507.92" y2="411.10" stroke="#333333" stroke-width="0.9" />
<rect x="496.72" y="374.20" width="22.40" height="22.10" fill="#ffffff" stroke="#333333" stroke-width="0.9" />
<line x1="496.72" y1="384.10" x2="519.12" y2="384.10" stroke="#111" stroke-width="1.7" />
<line x1="526.48" y1="425.80" x2="548.88" y2="425.80" stroke="#111" stroke-width="1.7" />
<line x1="576.50" y1="366.10" x2="576.50" y2="331.60" stroke="#333333" stroke-width="0.9" />
<line x1="576.50" y1="402.60" x2="576.50" y2="419.00" stroke="#333333" stroke-width="0.9" />
<rect x="565.30" y="366.10" width="22.40" height="36.50" fill="#ffffff" stroke="#333333" stroke-width="0.9" />
<line x1="565.30" y1="371.00" x2="587.70" y2="371.00" stroke="#111" stroke-width="1.7" />
<line x1="606.26" y1="402.20" x2="606.26" y2="400.60" stroke="#333333" stroke-width="0.9" />
<line x1="606.26" y1="413.40" x2="606.26" y2="429.80" stroke="#333333" stroke-width="0.9" />
<rect x="595.06" y="402.20" width="22.40" height="11.20" fill="#ffffff" stroke="#333333" stroke-width="0.9" />
<line x1="595.06" y1="408.10" x2="617.46" y2="408.10" stroke="#111" stroke-width="1.7" />
<line x1="636.02" y1="376.60" x2="636.02" y2="356.90" stroke="#333333" stroke-width="0.9" />
<line x1="636.02" y1="398.20" x2="636.02" y2="409.70" stroke="#333333" stroke-width="0.9" />
<rect x="624.82" y="376.60" width="22.40" height="21.60" fill="#ffffff" stroke="#333333" stroke-width="0.9" />
<line x1="624.82" y1="391.40" x2="647.22" y2="391.40" stroke="#111" stroke-width="1.7" />
<line x1="654.58" y1="409.70" x2="676.98" y2="409.70" stroke="#111" stroke-width="1.7" />
<circle cx="448.20" cy="329.90" r="1.2" fill="#222"/>
<circle cx="606.80" cy="340.70" r="1.2" fill="#222"/>
<circle cx="606.60" cy="375.60" r="1.2" fill="#222"/>
<circle cx="64.00" cy="346.60" r="1.2" fill="#222"/>
<circle cx="63.30" cy="346.60" r="2.6" fill="#c2d480"/>
<circle cx="61.30" cy="346.60" r="2.6" fill="#76afc4"/>
<circle cx="66.40" cy="358.80" r="2.6" fill="#2c6a98"/>
<circle cx="61.70" cy="374.20" r="2.6" fill="#2c6a98"/>
<circle cx="62.90" cy="376.20" r="2.6" fill="#dfa3a0"/>
<circle cx="62.10" cy="382.10" r="2.6" fill="#2c6a98"/>
<circle cx="66.60" cy="382.50" r="2.6" fill="#dfa3a0"/>
<circle cx="67.60" cy="381.50" r="2.6" fill="#dfa3a0"/>
<circle cx="61.70" cy="388.00" r="2.6" fill="#2c6a98"/>
<circle cx="67.00" cy="392.70" r="2.6" fill="#dfa3a0"/>
<circle cx="61.30" cy="401.20" r="2.6" fill="#76afc4"/>
<circle cx="65.00" cy="399.20" r="2.6" fill="#dfa3a0"/>
<circle cx="67.60" cy="402.20" r="2.6" fill="#2c6a98"/>
<circle cx="67.60" cy="404.80" r="2.6" fill="#2c6a98"/>
<circle cx="92.80" cy="370.70" r="2.6" fill="#2c6a98"/>
<circle cx="94.80" cy="391.90" r="2.6" fill="#76afc4"/>
<circle cx="91.20" cy="400.80" r="2.6" fill="#2c6a98"/>
<circle cx="90.80" cy="406.50" r="2.6" fill="#2c6a98"/>
<circle cx="94.60" cy="408.10" r="2.6" fill="#2c6a98"/>
<circle cx="94.00" cy="413.60" r="2.6" fill="#76afc4"/>
<circle cx="90.80" cy="420.50" r="2.6" fill="#2c6a98"/>
<circle cx="96.80" cy="431.80" r="2.6" fill="#76afc4"/>
<circle cx="95.20" cy="432.70" r="2.6" fill="#2c6a98"/>
<circle cx="92.20" cy="438.30" r="2.6" fill="#76afc4"/>
<circle cx="125.30" cy="365.70" r="2.6" fill="#dfa3a0"/>
<circle cx="124.70" cy="379.90" r="2.6" fill="#dfa3a0"/>
<circle cx="123.80" cy="384.50" r="2.6" fill="#2c6a98"/>
<circle cx="120.40" cy="394.30" r="2.6" fill="#dfa3a0"/>
<circle cx="119.80" cy="400.80" r="2.6" fill="#dfa3a0"/>
<circle cx="122.00" cy="399.20" r="2.6" fill="#2c6a98"/>
<circle cx="124.40" cy="398.60" r="2.6" fill="#dfa3a0"/>
<circle cx="122.40" cy="423.30" r="2.6" fill="#dfa3a0"/>
<circle cx="156.30" cy="410.50" r="2.6" fill="#dfa3a0"/>
<circle cx="194.20" cy="323.80" r="2.6" fill="#76afc4"/>
<circle cx="192.30" cy="348.60" r="2.6" fill="#c2d480"/>
<circle cx="188.70" cy="360.80" r="2.6" fill="#dfa3a0"/>
<circle cx="196.20" cy="363.80" r="2.6" fill="#2c6a98"/>
<circle cx="189.10" cy="367.30" r="2.6" fill="#dfa3a0"/>
<circle cx="193.60" cy="381.50" r="2.6" fill="#2c6a98"/>
<circle cx="193.10" cy="384.10" r="2.6" fill="#2c6a98"/>
<circle cx="191.30" cy="386.00" r="2.6" fill="#2c6a98"/>
<circle cx="196.20" cy="391.70" r="2.6" fill="#dfa3a0"/>
<circle cx="194.00" cy="399.20" r="2.6" fill="#2c6a98"/>
<circle cx="189.70" cy="402.60" r="2.6" fill="#dfa3a0"/>
<circle cx="187.70" cy="404.20" r="2.6" fill="#76afc4"/>
<circle cx="189.90" cy="409.70" r="2.6" fill="#2c6a98"/>
<circle cx="195.80" cy="409.50" r="2.6" fill="#dfa3a0"/>
<circle cx="195.00" cy="415.00" r="2.6" fill="#2c6a98"/>
<circle cx="222.80" cy="385.00" r="2.6" fill="#2c6a98"/>
<circle cx="225.20" cy="386.40" r="2.6" fill="#76afc4"/>
<circle cx="218.30" cy="392.90" r="2.6" fill="#2c6a98"/>
<circle cx="221.80" cy="402.80" r="2.6" fill="#2c6a98"/>
<circle cx="219.70" cy="411.50" r="2.6" fill="#76afc4"/>
<circle cx="223.80" cy="418.90" r="2.6" fill="#2c6a98"/>
<circle cx="219.30" cy="423.50" r="2.6" fill="#76afc4"/>
<circle cx="217.70" cy="425.20" r="2.6" fill="#2c6a98"/>
<circle cx="219.30" cy="432.70" r="2.6" fill="#2c6a98"/>
<circle cx="220.50" cy="443.60" r="2.6" fill="#76afc4"/>
<circle cx="248.80" cy="367.30" r="2.6" fill="#dfa3a0"/>
<circle cx="252.40" cy="367.70" r="2.6" fill="#dfa3a0"/>
<circle cx="248.80" cy="371.20" r="2.6" fill="#dfa3a0"/>
<circle cx="249.80" cy="386.80" r="2.6" fill="#2c6a98"/>
<circle cx="248.80" cy="391.70" r="2.6" fill="#dfa3a0"/>
<circle cx="255.10" cy="392.90" r="2.6" fill="#dfa3a0"/>
<circle cx="250.80" cy="407.10" r="2.6" fill="#dfa3a0"/>
<circle cx="255.90" cy="408.10" r="2.6" fill="#2c6a98"/>
<circle cx="282.90" cy="407.50" r="2.6" fill="#dfa3a0"/>
<circle cx="320.30" cy="325.30" r="2.6" fill="#76afc4"/>
<circle cx="323.80" cy="339.50" r="2.6" fill="#c2d480"/>
<circle cx="320.30" cy="343.70" r="2.6" fill="#2c6a98"/>
<circle cx="319.70" cy="362.20" r="2.6" fill="#2c6a98"/>
<circle cx="316.70" cy="365.30" r="2.6" fill="#dfa3a0"/>
<circle cx="322.00" cy="371.00" r="2.6" fill="#dfa3a0"/>
<circle cx="323.00" cy="372.00" r="2.6" fill="#2c6a98"/>
<circle cx="323.00" cy="374.20" r="2.6" fill="#dfa3a0"/>
<circle cx="321.60" cy="379.10" r="2.6" fill="#2c6a98"/>
<circle cx="324.20" cy="378.50" r="2.6" fill="#2c6a98"/>
<circle cx="322.60" cy="382.50" r="2.6" fill="#dfa3a0"/>
<circle cx="318.70" cy="391.70" r="2.6" fill="#2c6a98"/>
<circle cx="320.70" cy="395.70" r="2.6" fill="#2c6a98"/>
<circle cx="324.20" cy="397.50" r="2.6" fill="#dfa3a0"/>
<circle cx="323.00" cy="410.10" r="2.6" fill="#dfa3a0"/>
<circle cx="319.10" cy="414.60" r="2.6" fill="#2c6a98"/>
<circle cx="322.20" cy="415.00" r="2.6" fill="#76afc4"/>
<circle cx="353.20" cy="367.30" r="2.6" fill="#2c6a98"/>
<circle cx="353.80" cy="382.90" r="2.6" fill="#2c6a98"/>
<circle cx="352.80" cy="390.00" r="2.6" fill="#76afc4"/>
<circle cx="345.90" cy="393.30" r="2.6" fill="#2c6a98"/>
<circle cx="348.80" cy="395.30" r="2.6" fill="#2c6a98"/>
<circle cx="347.70" cy="406.50" r="2.6" fill="#76afc4"/>
<circle cx="350.80" cy="413.40" r="2.6" fill="#2c6a98"/>
<circle cx="345.90" cy="416.60" r="2.6" fill="#2c6a98"/>
<circle cx="347.30" cy="420.90" r="2.6" fill="#76afc4"/>
<circle cx="348.80" cy="433.10" r="2.6" fill="#76afc4"/>
<circle cx="384.10" cy="343.70" r="2.6" fill="#dfa3a0"/>
<circle cx="376.20" cy="364.20" r="2.6" fill="#2c6a98"/>
<circle cx="378.80" cy="375.20" r="2.6" fill="#dfa3a0"/>
<circle cx="376.20" cy="379.90" r="2.6" fill="#dfa3a0"/>
<circle cx="380.80" cy="390.80" r="2.6" fill="#dfa3a0"/>
<circle cx="375.80" cy="395.90" r="2.6" fill="#dfa3a0"/>
<circle cx="382.40" cy="397.70" r="2.6" fill="#dfa3a0"/>
<circle cx="382.20" cy="408.10" r="2.6" fill="#2c6a98"/>
<circle cx="411.90" cy="407.50" r="2.6" fill="#dfa3a0"/>
<circle cx="451.00" cy="329.90" r="2.6" fill="#76afc4"/>
<circle cx="448.30" cy="355.50" r="2.6" fill="#c2d480"/>
<circle cx="449.70" cy="358.80" r="2.6" fill="#dfa3a0"/>
<circle cx="448.70" cy="363.40" r="2.6" fill="#2c6a98"/>
<circle cx="445.90" cy="371.20" r="2.6" fill="#2c6a98"/>
<circle cx="446.30" cy="372.60" r="2.6" fill="#2c6a98"/>
<circle cx="450.60" cy="376.60" r="2.6" fill="#dfa3a0"/>
<circle cx="452.60" cy="381.10" r="2.6" fill="#2c6a98"/>
<circle cx="452.20" cy="390.40" r="2.6" fill="#2c6a98"/>
<circle cx="449.70" cy="393.70" r="2.6" fill="#2c6a98"/>
<circle cx="444.70" cy="394.30" r="2.6" fill="#dfa3a0"/>
<circle cx="448.70" cy="395.30" r="2.6" fill="#2c6a98"/>
<circle cx="445.70" cy="398.60" r="2.6" fill="#dfa3a0"/>
<circle cx="445.70" cy="402.80" r="2.6" fill="#dfa3a0"/>
<circle cx="452.20" cy="403.80" r="2.6" fill="#dfa3a0"/>
<circle cx="448.70" cy="418.90" r="2.6" fill="#76afc4"/>
<circle cx="474.30" cy="372.60" r="2.6" fill="#2c6a98"/>
<circle cx="476.30" cy="373.60" r="2.6" fill="#2c6a98"/>
<circle cx="481.20" cy="388.40" r="2.6" fill="#2c6a98"/>
<circle cx="474.30" cy="403.80" r="2.6" fill="#76afc4"/>
<circle cx="477.80" cy="405.70" r="2.6" fill="#76afc4"/>
<circle cx="478.80" cy="406.10" r="2.6" fill="#76afc4"/>
<circle cx="475.90" cy="418.00" r="2.6" fill="#76afc4"/>
<circle cx="480.60" cy="419.50" r="2.6" fill="#2c6a98"/>
<circle cx="482.20" cy="427.20" r="2.6" fill="#2c6a98"/>
<circle cx="508.40" cy="345.00" r="2.6" fill="#dfa3a0"/>
<circle cx="510.90" cy="365.30" r="2.6" fill="#2c6a98"/>
<circle cx="505.20" cy="377.60" r="2.6" fill="#dfa3a0"/>
<circle cx="509.40" cy="382.90" r="2.6" fill="#dfa3a0"/>
<circle cx="509.80" cy="385.80" r="2.6" fill="#dfa3a0"/>
<circle cx="506.20" cy="392.30" r="2.6" fill="#dfa3a0"/>
<circle cx="505.00" cy="406.70" r="2.6" fill="#2c6a98"/>
<circle cx="503.80" cy="411.60" r="2.6" fill="#dfa3a0"/>
<circle cx="534.00" cy="425.80" r="2.6" fill="#dfa3a0"/>
<circle cx="577.60" cy="331.60" r="2.6" fill="#76afc4"/>
<circle cx="579.80" cy="343.50" r="2.6" fill="#c2d480"/>
<circle cx="572.70" cy="350.60" r="2.6" fill="#dfa3a0"/>
<circle cx="577.80" cy="360.80" r="2.6" fill="#2c6a98"/>
<circle cx="579.20" cy="366.10" r="2.6" fill="#2c6a98"/>
<circle cx="578.20" cy="371.00" r="2.6" fill="#2c6a98"/>
<circle cx="579.00" cy="381.50" r="2.6" fill="#dfa3a0"/>
<circle cx="576.60" cy="390.40" r="2.6" fill="#2c6a98"/>
<circle cx="579.80" cy="394.90" r="2.6" fill="#2c6a98"/>
<circle cx="575.80" cy="402.20" r="2.6" fill="#dfa3a0"/>
<circle cx="579.80" cy="402.60" r="2.6" fill="#2c6a98"/>
<circle cx="577.80" cy="409.50" r="2.6" fill="#dfa3a0"/>
<circle cx="578.60" cy="413.00" r="2.6" fill="#76afc4"/>
<circle cx="577.80" cy="418.50" r="2.6" fill="#dfa3a0"/>
<circle cx="603.20" cy="340.70" r="2.6" fill="#76afc4"/>
<circle cx="605.80" cy="375.60" r="2.6" fill="#2c6a98"/>
<circle cx="607.20" cy="400.60" r="2.6" fill="#76afc4"/>
<circle cx="602.80" cy="408.10" r="2.6" fill="#2c6a98"/>
<circle cx="606.20" cy="407.10" r="2.6" fill="#2c6a98"/>
<circle cx="609.10" cy="408.10" r="2.6" fill="#2c6a98"/>
<circle cx="606.60" cy="413.60" r="2.6" fill="#2c6a98"/>
<circle cx="610.50" cy="420.30" r="2.6" fill="#76afc4"/>
<circle cx="610.90" cy="430.20" r="2.6" fill="#76afc4"/>
<circle cx="638.30" cy="356.90" r="2.6" fill="#dfa3a0"/>
<circle cx="633.20" cy="371.20" r="2.6" fill="#2c6a98"/>
<circle cx="633.80" cy="378.50" r="2.6" fill="#dfa3a0"/>
<circle cx="637.70" cy="390.00" r="2.6" fill="#dfa3a0"/>
<circle cx="633.80" cy="392.70" r="2.6" fill="#dfa3a0"/>
<circle cx="634.40" cy="396.30" r="2.6" fill="#dfa3a0"/>
<circle cx="639.30" cy="401.80" r="2.6" fill="#2c6a98"/>
<circle cx="638.70" cy="409.70" r="2.6" fill="#dfa3a0"/>
<circle cx="663.70" cy="409.70" r="2.6" fill="#dfa3a0"/>
<polyline points="64.10,321.20 64.10,318.00 93.86,318.00 93.86,321.20" fill="none" stroke="#555" stroke-width="0.8"/>
<text x="78.98" y="316.40" font-size="9.2" text-anchor="middle" font-weight="normal" font-style="normal" fill="#222" >0.00092</text>
<polyline points="93.86,306.50 93.86,303.30 123.62,303.30 123.62,306.50" fill="none" stroke="#555" stroke-width="0.8"/>
<text x="108.74" y="301.70" font-size="9.2" text-anchor="middle" font-weight="normal" font-style="normal" fill="#222" >0.055</text>
<polyline points="192.20,321.20 192.20,318.00 221.96,318.00 221.96,321.20" fill="none" stroke="#555" stroke-width="0.8"/>
<text x="207.08" y="316.40" font-size="9.2" text-anchor="middle" font-weight="normal" font-style="normal" fill="#222" >0.0034</text>
<polyline points="221.96,306.50 221.96,303.30 251.72,303.30 251.72,306.50" fill="none" stroke="#555" stroke-width="0.8"/>
<text x="236.84" y="301.70" font-size="9.2" text-anchor="middle" font-weight="normal" font-style="normal" fill="#222" >0.027</text>
<polyline points="320.30,321.20 320.30,318.00 350.06,318.00 350.06,321.20" fill="none" stroke="#555" stroke-width="0.8"/>
<text x="335.18" y="316.40" font-size="9.2" text-anchor="middle" font-weight="normal" font-style="normal" fill="#222" >0.02</text>
<polyline points="350.06,306.50 350.06,303.30 379.82,303.30 379.82,306.50" fill="none" stroke="#555" stroke-width="0.8"/>
<text x="364.94" y="301.70" font-size="9.2" text-anchor="middle" font-weight="normal" font-style="normal" fill="#222" >0.1</text>
<polyline points="448.40,321.20 448.40,318.00 478.16,318.00 478.16,321.20" fill="none" stroke="#555" stroke-width="0.8"/>
<text x="463.28" y="316.40" font-size="9.2" text-anchor="middle" font-weight="normal" font-style="normal" fill="#222" >0.015</text>
<polyline points="478.16,306.50 478.16,303.30 507.92,303.30 507.92,306.50" fill="none" stroke="#555" stroke-width="0.8"/>
<text x="493.04" y="301.70" font-size="9.2" text-anchor="middle" font-weight="normal" font-style="normal" fill="#222" >0.1</text>
<polyline points="576.50,321.20 576.50,318.00 606.26,318.00 606.26,321.20" fill="none" stroke="#555" stroke-width="0.8"/>
<text x="591.38" y="316.40" font-size="9.2" text-anchor="middle" font-weight="normal" font-style="normal" fill="#222" >0.023</text>
<polyline points="606.26,306.50 606.26,303.30 636.02,303.30 636.02,306.50" fill="none" stroke="#555" stroke-width="0.8"/>
<text x="621.14" y="301.70" font-size="9.2" text-anchor="middle" font-weight="normal" font-style="normal" fill="#222" >0.068</text>
<line x1="46.40" y1="292.70" x2="46.40" y2="453.60" stroke="#333333" stroke-width="1.0" />
<line x1="45.90" y1="453.10" x2="171.40" y2="453.10" stroke="#333333" stroke-width="1.0" />
<line x1="64.10" y1="453.10" x2="64.10" y2="455.40" stroke="#333333" stroke-width="0.8" />
<line x1="93.86" y1="453.10" x2="93.86" y2="455.40" stroke="#333333" stroke-width="0.8" />
<line x1="123.62" y1="453.10" x2="123.62" y2="455.40" stroke="#333333" stroke-width="0.8" />
<line x1="153.38" y1="453.10" x2="153.38" y2="455.40" stroke="#333333" stroke-width="0.8" />
<line x1="174.50" y1="292.70" x2="174.50" y2="453.60" stroke="#333333" stroke-width="1.0" />
<line x1="174.00" y1="453.10" x2="299.50" y2="453.10" stroke="#333333" stroke-width="1.0" />
<line x1="192.20" y1="453.10" x2="192.20" y2="455.40" stroke="#333333" stroke-width="0.8" />
<line x1="221.96" y1="453.10" x2="221.96" y2="455.40" stroke="#333333" stroke-width="0.8" />
<line x1="251.72" y1="453.10" x2="251.72" y2="455.40" stroke="#333333" stroke-width="0.8" />
<line x1="281.48" y1="453.10" x2="281.48" y2="455.40" stroke="#333333" stroke-width="0.8" />
<line x1="302.60" y1="292.70" x2="302.60" y2="453.60" stroke="#333333" stroke-width="1.0" />
<line x1="302.10" y1="453.10" x2="427.60" y2="453.10" stroke="#333333" stroke-width="1.0" />
<line x1="320.30" y1="453.10" x2="320.30" y2="455.40" stroke="#333333" stroke-width="0.8" />
<line x1="350.06" y1="453.10" x2="350.06" y2="455.40" stroke="#333333" stroke-width="0.8" />
<line x1="379.82" y1="453.10" x2="379.82" y2="455.40" stroke="#333333" stroke-width="0.8" />
<line x1="409.58" y1="453.10" x2="409.58" y2="455.40" stroke="#333333" stroke-width="0.8" />
<line x1="430.70" y1="292.70" x2="430.70" y2="453.60" stroke="#333333" stroke-width="1.0" />
<line x1="430.20" y1="453.10" x2="555.70" y2="453.10" stroke="#333333" stroke-width="1.0" />
<line x1="448.40" y1="453.10" x2="448.40" y2="455.40" stroke="#333333" stroke-width="0.8" />
<line x1="478.16" y1="453.10" x2="478.16" y2="455.40" stroke="#333333" stroke-width="0.8" />
<line x1="507.92" y1="453.10" x2="507.92" y2="455.40" stroke="#333333" stroke-width="0.8" />
<line x1="537.68" y1="453.10" x2="537.68" y2="455.40" stroke="#333333" stroke-width="0.8" />
<line x1="558.80" y1="292.70" x2="558.80" y2="453.60" stroke="#333333" stroke-width="1.0" />
<line x1="558.30" y1="453.10" x2="683.80" y2="453.10" stroke="#333333" stroke-width="1.0" />
<line x1="576.50" y1="453.10" x2="576.50" y2="455.40" stroke="#333333" stroke-width="0.8" />
<line x1="606.26" y1="453.10" x2="606.26" y2="455.40" stroke="#333333" stroke-width="0.8" />
<line x1="636.02" y1="453.10" x2="636.02" y2="455.40" stroke="#333333" stroke-width="0.8" />
<line x1="665.78" y1="453.10" x2="665.78" y2="455.40" stroke="#333333" stroke-width="0.8" />
<line x1="44.10" y1="439.60" x2="46.40" y2="439.60" stroke="#333333" stroke-width="0.8" />
<text x="42.00" y="444.10" font-size="10.4" text-anchor="end" font-weight="normal" font-style="normal" fill="#333" >0</text>
<line x1="44.10" y1="408.60" x2="46.40" y2="408.60" stroke="#333333" stroke-width="0.8" />
<text x="42.00" y="413.10" font-size="10.4" text-anchor="end" font-weight="normal" font-style="normal" fill="#333" >10</text>
<line x1="44.10" y1="377.60" x2="46.40" y2="377.60" stroke="#333333" stroke-width="0.8" />
<text x="42.00" y="382.10" font-size="10.4" text-anchor="end" font-weight="normal" font-style="normal" fill="#333" >20</text>
<line x1="44.10" y1="346.60" x2="46.40" y2="346.60" stroke="#333333" stroke-width="0.8" />
<text x="42.00" y="351.10" font-size="10.4" text-anchor="end" font-weight="normal" font-style="normal" fill="#333" >30</text>
<line x1="44.10" y1="315.60" x2="46.40" y2="315.60" stroke="#333333" stroke-width="0.8" />
<text x="42.00" y="320.10" font-size="10.4" text-anchor="end" font-weight="normal" font-style="normal" fill="#333" >40</text>
<g transform="translate(0,377.50) rotate(-90)">
<text x="0.00" y="11.70" font-size="11.3" text-anchor="middle" font-weight="bold" font-style="normal" fill="#000" >Most synergistic area score</text>
<text x="0.00" y="24.90" font-size="11.3" text-anchor="middle" font-weight="bold" font-style="normal" fill="#000" >(CDK2i + ribociclib)</text>
</g>
<g transform="translate(68.70,462.70) rotate(-45)">
<text x="0" y="0" font-size="9.3" text-anchor="end" fill="#222" font-style="normal">Ribo–R/</text>
<text x="0" y="10.3" font-size="9.3" text-anchor="end" fill="#222" font-style="italic">CDKN2A−</text>
</g>
<g transform="translate(98.46,462.70) rotate(-45)">
<text x="0" y="0" font-size="9.3" text-anchor="end" fill="#222" font-style="normal">Ribo–R/</text>
<text x="0" y="10.3" font-size="9.3" text-anchor="end" fill="#222" font-style="italic">CDKN2A+</text>
</g>
<g transform="translate(128.22,462.70) rotate(-45)">
<text x="0" y="0" font-size="9.3" text-anchor="end" fill="#222" font-style="normal">Ribo–S/</text>
<text x="0" y="10.3" font-size="9.3" text-anchor="end" fill="#222" font-style="italic">CDKN2A−</text>
</g>
<g transform="translate(157.98,462.70) rotate(-45)">
<text x="0" y="0" font-size="9.3" text-anchor="end" fill="#222" font-style="normal">Ribo–S/</text>
<text x="0" y="10.3" font-size="9.3" text-anchor="end" fill="#222" font-style="italic">CDKN2A+</text>
</g>
<g transform="translate(196.80,462.70) rotate(-45)">
<text x="0" y="0" font-size="9.3" text-anchor="end" fill="#222" font-style="normal">Ribo–R/</text>
<text x="0" y="10.3" font-size="9.3" text-anchor="end" fill="#222" font-style="italic">CDKN2A−</text>
</g>
<g transform="translate(226.56,462.70) rotate(-45)">
<text x="0" y="0" font-size="9.3" text-anchor="end" fill="#222" font-style="normal">Ribo–R/</text>
<text x="0" y="10.3" font-size="9.3" text-anchor="end" fill="#222" font-style="italic">CDKN2A+</text>
</g>
<g transform="translate(256.32,462.70) rotate(-45)">
<text x="0" y="0" font-size="9.3" text-anchor="end" fill="#222" font-style="normal">Ribo–S/</text>
<text x="0" y="10.3" font-size="9.3" text-anchor="end" fill="#222" font-style="italic">CDKN2A−</text>
</g>
<g transform="translate(286.08,462.70) rotate(-45)">
<text x="0" y="0" font-size="9.3" text-anchor="end" fill="#222" font-style="normal">Ribo–S/</text>
<text x="0" y="10.3" font-size="9.3" text-anchor="end" fill="#222" font-style="italic">CDKN2A+</text>
</g>
<g transform="translate(324.90,462.70) rotate(-45)">
<text x="0" y="0" font-size="9.3" text-anchor="end" fill="#222" font-style="normal">Ribo–R/</text>
<text x="0" y="10.3" font-size="9.3" text-anchor="end" fill="#222" font-style="italic">CDKN2A−</text>
</g>
<g transform="translate(354.66,462.70) rotate(-45)">
<text x="0" y="0" font-size="9.3" text-anchor="end" fill="#222" font-style="normal">Ribo–R/</text>
<text x="0" y="10.3" font-size="9.3" text-anchor="end" fill="#222" font-style="italic">CDKN2A+</text>
</g>
<g transform="translate(384.42,462.70) rotate(-45)">
<text x="0" y="0" font-size="9.3" text-anchor="end" fill="#222" font-style="normal">Ribo–S/</text>
<text x="0" y="10.3" font-size="9.3" text-anchor="end" fill="#222" font-style="italic">CDKN2A−</text>
</g>
<g transform="translate(414.18,462.70) rotate(-45)">
<text x="0" y="0" font-size="9.3" text-anchor="end" fill="#222" font-style="normal">Ribo–S/</text>
<text x="0" y="10.3" font-size="9.3" text-anchor="end" fill="#222" font-style="italic">CDKN2A+</text>
</g>
<g transform="translate(453.00,462.70) rotate(-45)">
<text x="0" y="0" font-size="9.3" text-anchor="end" fill="#222" font-style="normal">Ribo–R/</text>
<text x="0" y="10.3" font-size="9.3" text-anchor="end" fill="#222" font-style="italic">CDKN2A−</text>
</g>
<g transform="translate(482.76,462.70) rotate(-45)">
<text x="0" y="0" font-size="9.3" text-anchor="end" fill="#222" font-style="normal">Ribo–R/</text>
<text x="0" y="10.3" font-size="9.3" text-anchor="end" fill="#222" font-style="italic">CDKN2A+</text>
</g>
<g transform="translate(512.52,462.70) rotate(-45)">
<text x="0" y="0" font-size="9.3" text-anchor="end" fill="#222" font-style="normal">Ribo–S/</text>
<text x="0" y="10.3" font-size="9.3" text-anchor="end" fill="#222" font-style="italic">CDKN2A−</text>
</g>
<g transform="translate(542.28,462.70) rotate(-45)">
<text x="0" y="0" font-size="9.3" text-anchor="end" fill="#222" font-style="normal">Ribo–S/</text>
<text x="0" y="10.3" font-size="9.3" text-anchor="end" fill="#222" font-style="italic">CDKN2A+</text>
</g>
<g transform="translate(581.10,462.70) rotate(-45)">
<text x="0" y="0" font-size="9.3" text-anchor="end" fill="#222" font-style="normal">Ribo–R/</text>
<text x="0" y="10.3" font-size="9.3" text-anchor="end" fill="#222" font-style="italic">CDKN2A−</text>
</g>
<g transform="translate(610.86,462.70) rotate(-45)">
<text x="0" y="0" font-size="9.3" text-anchor="end" fill="#222" font-style="normal">Ribo–R/</text>
<text x="0" y="10.3" font-size="9.3" text-anchor="end" fill="#222" font-style="italic">CDKN2A+</text>
</g>
<g transform="translate(640.62,462.70) rotate(-45)">
<text x="0" y="0" font-size="9.3" text-anchor="end" fill="#222" font-style="normal">Ribo–S/</text>
<text x="0" y="10.3" font-size="9.3" text-anchor="end" fill="#222" font-style="italic">CDKN2A−</text>
</g>
<g transform="translate(670.38,462.70) rotate(-45)">
<text x="0" y="0" font-size="9.3" text-anchor="end" fill="#222" font-style="normal">Ribo–S/</text>
<text x="0" y="10.3" font-size="9.3" text-anchor="end" fill="#222" font-style="italic">CDKN2A+</text>
</g>
<text x="185.60" y="521.70" font-size="9.1" text-anchor="start" font-weight="normal" font-style="normal" fill="#1a1a1a" ><tspan font-style="italic">CCND1</tspan> and <tspan font-style="italic">CCNE1</tspan> mRNA</text>
<circle cx="311.60" cy="518.40" r="2.6" fill="#2c6a98"/>
<text x="316.50" y="521.70" font-size="9.1" text-anchor="start" font-weight="normal" font-style="normal" fill="#1a1a1a" >Both not OE</text>
<circle cx="378.20" cy="518.40" r="2.6" fill="#c2d480"/>
<text x="383.10" y="521.70" font-size="9.1" text-anchor="start" font-weight="normal" font-style="normal" fill="#1a1a1a" >Both OE</text>
<circle cx="429.80" cy="518.40" r="2.6" fill="#dfa3a0"/>
<text x="434.70" y="521.70" font-size="9.1" text-anchor="start" font-weight="normal" font-style="normal" fill="#1a1a1a" ><tspan font-style="italic">CCND1</tspan> OE</text>
<circle cx="493.90" cy="518.40" r="2.6" fill="#76afc4"/>
<text x="498.80" y="521.70" font-size="9.1" text-anchor="start" font-weight="normal" font-style="normal" fill="#1a1a1a" ><tspan font-style="italic">CCNE1</tspan> OE</text>
<text x="0.60" y="560.50" font-size="14" text-anchor="start" font-weight="bold" font-style="normal" fill="#000" >c.</text>
<text x="168.40" y="558.40" font-size="11" text-anchor="middle" font-weight="bold" font-style="normal" fill="#000" >T-47D</text>
<text transform="translate(100.30,644.6) rotate(-90)" font-size="10.5" fill="#111">Parental</text>
<text transform="translate(134.50,644.6) rotate(-90)" font-size="10.5" fill="#111">EV + EV</text>
<text transform="translate(168.50,644.6) rotate(-90)" font-size="10.5" fill="#111">EV + <tspan font-style="italic">CDKN2A</tspan></text>
<text transform="translate(202.80,644.6) rotate(-90)" font-size="10.5" fill="#111">EV + <tspan font-style="italic">CCNE1</tspan></text>
<text transform="translate(236.90,644.6) rotate(-90)" font-size="10.5" fill="#111"><tspan font-style="italic">CCNE1</tspan> + <tspan font-style="italic">CDKN2A</tspan></text>
<defs><filter id="bl" x="-20%" y="-50%" width="140%" height="200%"><feGaussianBlur stdDeviation="0.75"/></filter><filter id="bl2" x="-30%" y="-80%" width="160%" height="260%"><feGaussianBlur stdDeviation="1.6"/></filter></defs>
<rect x="80.00" y="652.20" width="177.00" height="26.20" fill="#e1e2e2" stroke="#3a3a3a" stroke-width="1.0" />
<text x="71.50" y="670.40" font-size="10.45" text-anchor="end" font-weight="normal" font-style="normal" fill="#1a1a1a" >Cyclin E1</text>
<rect x="80.00" y="683.50" width="177.00" height="28.70" fill="#e1e2e2" stroke="#3a3a3a" stroke-width="1.0" />
<text x="71.50" y="702.20" font-size="10.45" text-anchor="end" font-weight="normal" font-style="normal" fill="#1a1a1a" >p16 INK4A</text>
<rect x="80.00" y="717.40" width="177.00" height="26.90" fill="#e1e2e2" stroke="#3a3a3a" stroke-width="1.0" />
<text x="71.50" y="735.40" font-size="10.45" text-anchor="end" font-weight="normal" font-style="normal" fill="#1a1a1a" >Rb</text>
<rect x="80.00" y="748.60" width="177.00" height="26.90" fill="#e1e2e2" stroke="#3a3a3a" stroke-width="1.0" />
<text x="71.50" y="766.10" font-size="10.45" text-anchor="end" font-weight="normal" font-style="normal" fill="#1a1a1a" >pRbS807/811</text>
<rect x="80.00" y="778.40" width="177.00" height="21.00" fill="#e1e2e2" stroke="#3a3a3a" stroke-width="1.0" />
<text x="71.50" y="793.50" font-size="10.45" text-anchor="end" font-weight="normal" font-style="normal" fill="#1a1a1a" >Cyclin A2</text>
<rect x="80.00" y="803.40" width="177.00" height="21.40" fill="#e1e2e2" stroke="#3a3a3a" stroke-width="1.0" />
<text x="71.50" y="819.00" font-size="10.45" text-anchor="end" font-weight="normal" font-style="normal" fill="#1a1a1a" >CDK2</text>
<rect x="80.00" y="829.40" width="177.00" height="23.60" fill="#e1e2e2" stroke="#3a3a3a" stroke-width="1.0" />
<text x="71.50" y="845.50" font-size="10.45" text-anchor="end" font-weight="normal" font-style="normal" fill="#1a1a1a" >CDK4</text>
<rect x="80.00" y="856.40" width="177.00" height="26.00" fill="#e1e2e2" stroke="#3a3a3a" stroke-width="1.0" />
<text x="71.50" y="872.00" font-size="10.45" text-anchor="end" font-weight="normal" font-style="normal" fill="#1a1a1a" >CDK6</text>
<rect x="80.00" y="886.40" width="177.00" height="32.00" fill="#e1e2e2" stroke="#3a3a3a" stroke-width="1.0" />
<text x="71.50" y="905.80" font-size="10.45" text-anchor="end" font-weight="normal" font-style="normal" fill="#1a1a1a" >GAPDH</text>
<path d="M189.55,662.45 L206.70,661.00 A5.00,5.00 0 0 1 206.70,671.00 L189.55,671.95 A4.75,4.75 0 0 1 189.55,662.45 Z" fill="#000" fill-opacity="1.0" filter="url(#bl)"/>
<path d="M224.15,661.25 L240.80,657.95 A5.50,6.25 0 0 1 240.80,670.45 L224.15,671.75 A5.25,5.25 0 0 1 224.15,661.25 Z" fill="#000" fill-opacity="1.0" filter="url(#bl)"/>
<path d="M156.75,693.75 L174.25,692.15 A4.25,4.25 0 0 1 174.25,700.65 L156.75,700.25 A3.25,3.25 0 0 1 156.75,693.75 Z" fill="#000" fill-opacity="0.85" filter="url(#bl)"/>
<path d="M221.00,693.25 L243.40,690.00 A5.50,7.00 0 0 1 243.40,704.00 L221.00,705.75 A5.50,6.25 0 0 1 221.00,693.25 Z" fill="#000" fill-opacity="1.0" filter="url(#bl)"/>
<path d="M86.75,727.70 L108.95,727.70 A2.75,2.75 0 0 1 108.95,733.20 L86.75,733.20 A2.75,2.75 0 0 1 86.75,727.70 Z" fill="#000" fill-opacity="1.0" filter="url(#bl)"/>
<path d="M124.90,728.20 L145.20,728.20 A2.30,2.30 0 0 1 145.20,732.80 L124.90,732.80 A2.30,2.30 0 0 1 124.90,728.20 Z" fill="#000" fill-opacity="0.85" filter="url(#bl)"/>
<path d="M160.70,728.20 L179.70,728.20 A2.30,2.30 0 0 1 179.70,732.80 L160.70,732.80 A2.30,2.30 0 0 1 160.70,728.20 Z" fill="#000" fill-opacity="0.85" filter="url(#bl)"/>
<path d="M195.55,727.90 L214.35,727.90 A2.55,2.55 0 0 1 214.35,733.00 L195.55,733.00 A2.55,2.55 0 0 1 195.55,727.90 Z" fill="#000" fill-opacity="0.85" filter="url(#bl)"/>
<path d="M230.05,728.60 L249.85,728.60 A1.65,1.65 0 0 1 249.85,731.90 L230.05,731.90 A1.65,1.65 0 0 1 230.05,728.60 Z" fill="#000" fill-opacity="0.55" filter="url(#bl)"/>
<path d="M89.70,758.30 L108.20,758.30 A3.90,3.90 0 0 1 108.20,766.10 L89.70,766.10 A3.90,3.90 0 0 1 89.70,758.30 Z" fill="#000" fill-opacity="1.0" filter="url(#bl)"/>
<path d="M125.10,759.20 L144.20,759.20 A3.00,3.00 0 0 1 144.20,765.20 L125.10,765.20 A3.00,3.00 0 0 1 125.10,759.20 Z" fill="#000" fill-opacity="1.0" filter="url(#bl)"/>
<path d="M160.20,759.20 L178.00,759.20 A3.00,3.00 0 0 1 178.00,765.20 L160.20,765.20 A3.00,3.00 0 0 1 160.20,759.20 Z" fill="#000" fill-opacity="1.0" filter="url(#bl)"/>
<path d="M194.50,760.20 L214.30,760.20 A2.40,2.40 0 0 1 214.30,765.00 L194.50,765.00 A2.40,2.40 0 0 1 194.50,760.20 Z" fill="#000" fill-opacity="1.0" filter="url(#bl)"/>
<path d="M228.80,760.40 L249.70,760.40 A1.80,1.80 0 0 1 249.70,764.00 L228.80,764.00 A1.80,1.80 0 0 1 228.80,760.40 Z" fill="#000" fill-opacity="0.45" filter="url(#bl)"/>
<path d="M83.95,786.90 L106.55,786.90 A3.45,3.45 0 0 1 106.55,793.80 L83.95,793.80 A3.45,3.45 0 0 1 83.95,786.90 Z" fill="#000" fill-opacity="1.0" filter="url(#bl)"/>
<path d="M123.10,789.20 L142.80,789.20 A1.80,1.80 0 0 1 142.80,792.80 L123.10,792.80 A1.80,1.80 0 0 1 123.10,789.20 Z" fill="#000" fill-opacity="0.75" filter="url(#bl)"/>
<path d="M158.20,789.50 L178.50,789.50 A1.50,1.50 0 0 1 178.50,792.50 L158.20,792.50 A1.50,1.50 0 0 1 158.20,789.50 Z" fill="#000" fill-opacity="0.55" filter="url(#bl)"/>
<path d="M192.60,787.90 L211.10,787.90 A2.60,2.60 0 0 1 211.10,793.10 L192.60,793.10 A2.60,2.60 0 0 1 192.60,787.90 Z" fill="#000" fill-opacity="1.0" filter="url(#bl)"/>
<path d="M229.40,787.80 L247.60,787.80 A2.40,2.40 0 0 1 247.60,792.60 L229.40,792.60 A2.40,2.40 0 0 1 229.40,787.80 Z" fill="#000" fill-opacity="0.45" filter="url(#bl)"/>
<path d="M89.40,811.80 L107.50,811.80 A2.90,2.90 0 0 1 107.50,817.60 L89.40,817.60 A2.90,2.90 0 0 1 89.40,811.80 Z" fill="#000" fill-opacity="1.0" filter="url(#bl)"/>
<path d="M124.35,812.50 L141.85,812.50 A2.55,2.55 0 0 1 141.85,817.60 L124.35,817.60 A2.55,2.55 0 0 1 124.35,812.50 Z" fill="#000" fill-opacity="1.0" filter="url(#bl)"/>
<path d="M157.95,812.50 L176.25,812.50 A2.55,2.55 0 0 1 176.25,817.60 L157.95,817.60 A2.55,2.55 0 0 1 157.95,812.50 Z" fill="#000" fill-opacity="1.0" filter="url(#bl)"/>
<path d="M193.00,811.80 L210.50,811.80 A3.30,3.30 0 0 1 210.50,818.40 L193.00,818.40 A3.30,3.30 0 0 1 193.00,811.80 Z" fill="#000" fill-opacity="1.0" filter="url(#bl)"/>
<path d="M227.45,810.30 L244.25,810.30 A3.45,3.45 0 0 1 244.25,817.20 L227.45,817.20 A3.45,3.45 0 0 1 227.45,810.30 Z" fill="#000" fill-opacity="1.0" filter="url(#bl)"/>
<path d="M87.95,841.40 L106.45,841.40 A2.95,2.95 0 0 1 106.45,847.30 L87.95,847.30 A2.95,2.95 0 0 1 87.95,841.40 Z" fill="#000" fill-opacity="1.0" filter="url(#bl)"/>
<path d="M122.75,841.80 L140.95,841.80 A2.75,2.75 0 0 1 140.95,847.30 L122.75,847.30 A2.75,2.75 0 0 1 122.75,841.80 Z" fill="#000" fill-opacity="1.0" filter="url(#bl)"/>
<path d="M157.55,841.40 L176.55,841.40 A2.95,2.95 0 0 1 176.55,847.30 L157.55,847.30 A2.95,2.95 0 0 1 157.55,841.40 Z" fill="#000" fill-opacity="1.0" filter="url(#bl)"/>
<path d="M192.75,840.30 L210.75,840.30 A3.05,3.05 0 0 1 210.75,846.40 L192.75,846.40 A3.05,3.05 0 0 1 192.75,840.30 Z" fill="#000" fill-opacity="1.0" filter="url(#bl)"/>
<path d="M226.35,839.75 L245.55,836.75 A4.75,4.75 0 0 1 245.55,846.25 L226.35,847.25 A3.75,3.75 0 0 1 226.35,839.75 Z" fill="#000" fill-opacity="1.0" filter="url(#bl)"/>
<path d="M88.25,865.80 L105.05,865.80 A3.65,3.65 0 0 1 105.05,873.10 L88.25,873.10 A3.65,3.65 0 0 1 88.25,865.80 Z" fill="#000" fill-opacity="1.0" filter="url(#bl)"/>
<path d="M122.20,866.50 L138.20,866.50 A3.30,3.30 0 0 1 138.20,873.10 L122.20,873.10 A3.30,3.30 0 0 1 122.20,866.50 Z" fill="#000" fill-opacity="1.0" filter="url(#bl)"/>
<path d="M153.35,867.30 L170.15,867.30 A3.85,3.85 0 0 1 170.15,875.00 L153.35,875.00 A3.85,3.85 0 0 1 153.35,867.30 Z" fill="#000" fill-opacity="1.0" filter="url(#bl)"/>
<path d="M189.75,868.70 L207.65,868.70 A2.95,2.95 0 0 1 207.65,874.60 L189.75,874.60 A2.95,2.95 0 0 1 189.75,868.70 Z" fill="#000" fill-opacity="1.0" filter="url(#bl)"/>
<path d="M227.65,866.50 L246.65,866.50 A3.65,3.65 0 0 1 246.65,873.80 L227.65,873.80 A3.65,3.65 0 0 1 227.65,866.50 Z" fill="#000" fill-opacity="1.0" filter="url(#bl)"/>
<path d="M91.65,899.80 L110.35,899.80 A4.15,4.15 0 0 1 110.35,908.10 L91.65,908.10 A4.15,4.15 0 0 1 91.65,899.80 Z" fill="#000" fill-opacity="1.0" filter="url(#bl)"/>
<path d="M124.65,898.80 L144.45,898.80 A4.35,4.35 0 0 1 144.45,907.50 L124.65,907.50 A4.35,4.35 0 0 1 124.65,898.80 Z" fill="#000" fill-opacity="1.0" filter="url(#bl)"/>
<path d="M159.40,899.00 L177.70,899.00 A4.00,4.00 0 0 1 177.70,907.00 L159.40,907.00 A4.00,4.00 0 0 1 159.40,899.00 Z" fill="#000" fill-opacity="1.0" filter="url(#bl)"/>
<path d="M193.55,898.60 L212.75,898.60 A4.25,4.25 0 0 1 212.75,907.10 L193.55,907.10 A4.25,4.25 0 0 1 193.55,898.60 Z" fill="#000" fill-opacity="1.0" filter="url(#bl)"/>
<path d="M227.70,898.00 L245.80,895.50 A4.50,4.50 0 0 1 245.80,904.50 L227.70,906.00 A4.00,4.00 0 0 1 227.70,898.00 Z" fill="#000" fill-opacity="1.0" filter="url(#bl)"/>
<path d="M80.5,789 L99,792 L93,795.5 L87,799 L80.5,799 Z" fill="#000" fill-opacity="0.9" filter="url(#bl2)"/><rect x="80.5" y="790" width="5" height="9" fill="#000" fill-opacity="0.6" filter="url(#bl)"/>
<ellipse cx="214" cy="703.5" rx="7" ry="3" fill="#000" fill-opacity="0.3" filter="url(#bl2)"/>
<text x="332.60" y="560.70" font-size="14" text-anchor="start" font-weight="bold" font-style="normal" fill="#000" >d.</text>
<text x="524.30" y="558.40" font-size="11" text-anchor="middle" font-weight="bold" font-style="normal" fill="#000" >T-47D</text>
<text x="419.70" y="595.20" font-size="10.7" text-anchor="middle" font-weight="normal" font-style="normal" fill="#111" >EV + EV</text>
<text x="490.20" y="595.20" font-size="10.7" text-anchor="middle" font-weight="normal" font-style="normal" fill="#111" >+<tspan font-style="italic">CDKN2A</tspan></text>
<text x="560.00" y="595.20" font-size="10.7" text-anchor="middle" font-weight="normal" font-style="normal" fill="#111" >+<tspan font-style="italic">CCNE1</tspan></text>
<text x="630.90" y="582.90" font-size="10.7" text-anchor="middle" font-weight="normal" font-style="normal" fill="#111" >+<tspan font-style="italic">CCNE1</tspan></text>
<text x="630.20" y="595.20" font-size="10.7" text-anchor="middle" font-weight="normal" font-style="normal" fill="#111" >+<tspan font-style="italic">CDKN2A</tspan></text>
<rect x="393.80" y="604.60" width="14.40" height="95.40" fill="#3a7797" stroke="none" stroke-width="1.0" />
<rect x="412.70" y="604.60" width="14.20" height="137.40" fill="#bce27d" stroke="none" stroke-width="1.0" />
<rect x="431.10" y="604.60" width="14.70" height="176.60" fill="#e36552" stroke="none" stroke-width="1.0" />
<rect x="464.40" y="604.60" width="14.40" height="55.70" fill="#3a7797" stroke="none" stroke-width="1.0" />
<rect x="483.20" y="604.60" width="14.30" height="129.00" fill="#bce27d" stroke="none" stroke-width="1.0" />
<rect x="501.60" y="604.60" width="14.30" height="139.30" fill="#e36552" stroke="none" stroke-width="1.0" />
<rect x="534.50" y="604.60" width="14.50" height="102.10" fill="#3a7797" stroke="none" stroke-width="1.0" />
<rect x="553.10" y="604.60" width="14.30" height="109.30" fill="#bce27d" stroke="none" stroke-width="1.0" />
<rect x="571.90" y="604.60" width="14.30" height="163.60" fill="#e36552" stroke="none" stroke-width="1.0" />
<rect x="604.90" y="604.60" width="14.30" height="229.10" fill="#3a7797" stroke="none" stroke-width="1.0" />
<rect x="623.40" y="604.60" width="14.40" height="24.60" fill="#bce27d" stroke="none" stroke-width="1.0" />
<rect x="642.10" y="604.60" width="14.30" height="232.80" fill="#e36552" stroke="none" stroke-width="1.0" />
<line x1="401.00" y1="700.00" x2="401.00" y2="712.40" stroke="#222" stroke-width="0.9" />
<line x1="397.60" y1="712.40" x2="404.40" y2="712.40" stroke="#222" stroke-width="0.9" />
<line x1="419.80" y1="742.00" x2="419.80" y2="753.80" stroke="#222" stroke-width="0.9" />
<line x1="416.40" y1="753.80" x2="423.20" y2="753.80" stroke="#222" stroke-width="0.9" />
<line x1="438.45" y1="781.20" x2="438.45" y2="782.90" stroke="#222" stroke-width="0.9" />
<line x1="435.05" y1="782.90" x2="441.85" y2="782.90" stroke="#222" stroke-width="0.9" />
<line x1="471.60" y1="660.30" x2="471.60" y2="684.20" stroke="#222" stroke-width="0.9" />
<line x1="468.20" y1="684.20" x2="475.00" y2="684.20" stroke="#222" stroke-width="0.9" />
<line x1="490.35" y1="733.60" x2="490.35" y2="737.60" stroke="#222" stroke-width="0.9" />
<line x1="486.95" y1="737.60" x2="493.75" y2="737.60" stroke="#222" stroke-width="0.9" />
<line x1="508.75" y1="743.90" x2="508.75" y2="747.00" stroke="#222" stroke-width="0.9" />
<line x1="505.35" y1="747.00" x2="512.15" y2="747.00" stroke="#222" stroke-width="0.9" />
<line x1="541.75" y1="706.70" x2="541.75" y2="715.50" stroke="#222" stroke-width="0.9" />
<line x1="538.35" y1="715.50" x2="545.15" y2="715.50" stroke="#222" stroke-width="0.9" />
<line x1="560.25" y1="713.90" x2="560.25" y2="718.80" stroke="#222" stroke-width="0.9" />
<line x1="556.85" y1="718.80" x2="563.65" y2="718.80" stroke="#222" stroke-width="0.9" />
<line x1="579.05" y1="768.20" x2="579.05" y2="771.30" stroke="#222" stroke-width="0.9" />
<line x1="575.65" y1="771.30" x2="582.45" y2="771.30" stroke="#222" stroke-width="0.9" />
<line x1="612.05" y1="833.70" x2="612.05" y2="839.60" stroke="#222" stroke-width="0.9" />
<line x1="608.65" y1="839.60" x2="615.45" y2="839.60" stroke="#222" stroke-width="0.9" />
<line x1="630.60" y1="629.20" x2="630.60" y2="690.30" stroke="#222" stroke-width="0.9" />
<line x1="627.20" y1="690.30" x2="634.00" y2="690.30" stroke="#222" stroke-width="0.9" />
<line x1="649.25" y1="837.40" x2="649.25" y2="843.20" stroke="#222" stroke-width="0.9" />
<line x1="645.85" y1="843.20" x2="652.65" y2="843.20" stroke="#222" stroke-width="0.9" />
<line x1="382.60" y1="604.60" x2="663.20" y2="604.60" stroke="#555" stroke-width="1.0" />
<line x1="386.80" y1="604.10" x2="386.80" y2="883.60" stroke="#555" stroke-width="1.0" />
<line x1="382.60" y1="604.60" x2="386.80" y2="604.60" stroke="#555" stroke-width="1.0" />
<text x="377.20" y="608.30" font-size="10.5" text-anchor="end" font-weight="normal" font-style="normal" fill="#222" >0</text>
<line x1="382.60" y1="674.27" x2="386.80" y2="674.27" stroke="#555" stroke-width="1.0" />
<text x="377.20" y="677.98" font-size="10.5" text-anchor="end" font-weight="normal" font-style="normal" fill="#222" >−50</text>
<line x1="382.60" y1="743.95" x2="386.80" y2="743.95" stroke="#555" stroke-width="1.0" />
<text x="377.20" y="747.65" font-size="10.5" text-anchor="end" font-weight="normal" font-style="normal" fill="#222" >−100</text>
<line x1="382.60" y1="813.62" x2="386.80" y2="813.62" stroke="#555" stroke-width="1.0" />
<text x="377.20" y="817.33" font-size="10.5" text-anchor="end" font-weight="normal" font-style="normal" fill="#222" >−150</text>
<line x1="382.60" y1="883.30" x2="386.80" y2="883.30" stroke="#555" stroke-width="1.0" />
<text x="377.20" y="887.00" font-size="10.5" text-anchor="end" font-weight="normal" font-style="normal" fill="#222" >−200</text>
<text transform="translate(342.2,744.3) rotate(-90)" font-size="11.25" font-weight="bold" text-anchor="middle" fill="#111">Tumor Growth (%)</text>
<text x="401.20" y="726.70" font-size="11.5" text-anchor="middle" letter-spacing="0.55" fill="#000" style="stroke:#000;stroke-width:0.25px">**</text>
<text x="419.90" y="768.50" font-size="11.5" text-anchor="middle" letter-spacing="0.55" fill="#000" style="stroke:#000;stroke-width:0.25px">***</text>
<text x="438.50" y="797.80" font-size="11.5" text-anchor="middle" letter-spacing="0.55" fill="#000" style="stroke:#000;stroke-width:0.25px">****</text>
<text x="490.10" y="754.20" font-size="11.5" text-anchor="middle" letter-spacing="0.55" fill="#000" style="stroke:#000;stroke-width:0.25px">****</text>
<text x="508.70" y="761.20" font-size="11.5" text-anchor="middle" letter-spacing="0.55" fill="#000" style="stroke:#000;stroke-width:0.25px">**</text>
<text x="541.40" y="731.00" font-size="11.5" text-anchor="middle" letter-spacing="0.55" fill="#000" style="stroke:#000;stroke-width:0.25px">**</text>
<text x="560.00" y="732.10" font-size="11.5" text-anchor="middle" letter-spacing="0.55" fill="#000" style="stroke:#000;stroke-width:0.25px">**</text>
<text x="578.60" y="784.90" font-size="11.5" text-anchor="middle" letter-spacing="0.55" fill="#000" style="stroke:#000;stroke-width:0.25px">****</text>
<text x="612.20" y="852.60" font-size="11.5" text-anchor="middle" letter-spacing="0.55" fill="#000" style="stroke:#000;stroke-width:0.25px">***</text>
<text x="648.90" y="856.20" font-size="11.5" text-anchor="middle" letter-spacing="0.55" fill="#000" style="stroke:#000;stroke-width:0.25px">****</text>
<text x="428.60" y="819.60" font-size="11.5" text-anchor="middle" letter-spacing="0.55" fill="#000" style="stroke:#000;stroke-width:0.25px">***</text>
<text x="419.60" y="840.90" font-size="11.5" text-anchor="middle" letter-spacing="0.55" fill="#000" style="stroke:#000;stroke-width:0.25px">****</text>
<text x="570.30" y="806.80" font-size="11.5" text-anchor="middle" letter-spacing="0.55" fill="#000" style="stroke:#000;stroke-width:0.25px">****</text>
<text x="561.10" y="829.60" font-size="11.5" text-anchor="middle" letter-spacing="0.55" fill="#000" style="stroke:#000;stroke-width:0.25px">****</text>
<text x="618.90" y="877.40" font-size="11.5" text-anchor="middle" letter-spacing="0.55" fill="#000" style="stroke:#000;stroke-width:0.25px">****</text>
<text x="641.20" y="877.40" font-size="11.5" text-anchor="middle" letter-spacing="0.55" fill="#000" style="stroke:#000;stroke-width:0.25px">****</text>
<polyline points="418.50,801.70 418.50,808.30 438.70,808.30 438.70,801.70" fill="none" stroke="#444" stroke-width="0.9"/>
<polyline points="401.00,822.10 401.00,828.30 437.80,828.30 437.80,822.10" fill="none" stroke="#444" stroke-width="0.9"/>
<polyline points="560.00,789.50 560.00,795.60 580.40,795.60 580.40,789.50" fill="none" stroke="#444" stroke-width="0.9"/>
<polyline points="541.40,811.40 541.40,817.50 580.40,817.50 580.40,811.40" fill="none" stroke="#444" stroke-width="0.9"/>
<polyline points="608.40,858.80 608.40,865.40 628.50,865.40 628.50,858.80" fill="none" stroke="#444" stroke-width="0.9"/>
<polyline points="631.30,858.80 631.30,865.40 651.40,865.40 651.40,858.80" fill="none" stroke="#444" stroke-width="0.9"/>
<rect x="435.10" y="893.80" width="19.60" height="9.60" fill="#3a7797" stroke="none" stroke-width="1.0" />
<text x="461.70" y="903.10" font-size="11.3" text-anchor="start" font-weight="normal" font-style="normal" fill="#111" >BLU-222</text>
<rect x="540.40" y="893.80" width="19.90" height="9.60" fill="#bce27d" stroke="none" stroke-width="1.0" />
<text x="567.00" y="903.10" font-size="11.3" text-anchor="start" font-weight="normal" font-style="normal" fill="#111" >Ribociclib</text>
<rect x="450.70" y="913.90" width="19.80" height="9.90" fill="#e36552" stroke="none" stroke-width="1.0" />
<text x="477.20" y="922.70" font-size="11.3" text-anchor="start" font-weight="normal" font-style="normal" fill="#111" >BLU-222 + ribociclib</text>
</svg>
</body></html>
